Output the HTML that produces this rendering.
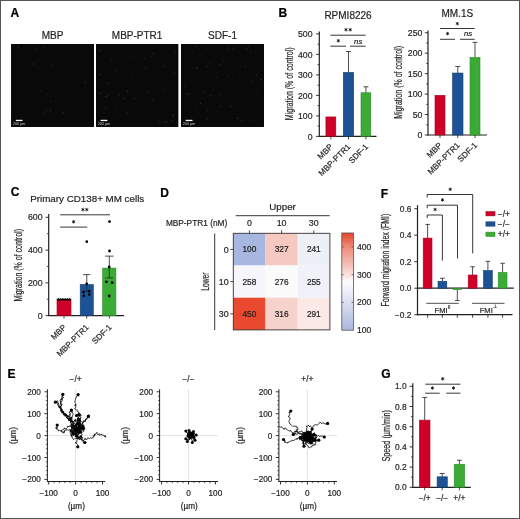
<!DOCTYPE html>
<html><head><meta charset="utf-8"><style>
html,body{margin:0;padding:0;background:#fff;}
svg{display:block;font-family:"Liberation Sans", sans-serif;will-change:transform;}
</style></head><body>
<svg width="520" height="519" viewBox="0 0 520 519">
<rect width="520" height="519" fill="#fff"/>
<rect x="0.50" y="0.50" width="519.00" height="518.00" fill="none" stroke="#555" stroke-width="1"/>
<text x="10.60" y="17.00" font-size="12" text-anchor="start" font-weight="bold" fill="#000" stroke="#000" stroke-width="0.2"  style="">A</text>
<text x="52.60" y="39.40" font-size="10" text-anchor="middle" font-weight="normal" fill="#231f20" stroke="#231f20" stroke-width="0.2"  style="">MBP</text>
<rect x="11.20" y="44.00" width="82.80" height="83.00" fill="#0c0c0c"/>
<rect x="11.20" y="44.00" width="82.80" height="83.00" fill="#090909"/>
<circle cx="32.0" cy="87.9" r="0.7" fill="rgb(37,37,37)"/>
<circle cx="85.4" cy="82.5" r="0.7" fill="rgb(44,44,44)"/>
<circle cx="18.4" cy="47.0" r="0.7" fill="rgb(41,41,41)"/>
<circle cx="33.6" cy="64.0" r="0.7" fill="rgb(48,48,48)"/>
<circle cx="50.3" cy="110.4" r="0.7" fill="rgb(41,41,41)"/>
<circle cx="44.5" cy="112.3" r="0.7" fill="rgb(33,33,33)"/>
<circle cx="63.2" cy="112.8" r="0.7" fill="rgb(42,42,42)"/>
<circle cx="43.9" cy="47.2" r="0.7" fill="rgb(28,28,28)"/>
<circle cx="25.8" cy="119.7" r="0.7" fill="rgb(27,27,27)"/>
<circle cx="36.9" cy="48.4" r="0.7" fill="rgb(34,34,34)"/>
<circle cx="50.5" cy="101.3" r="0.7" fill="rgb(38,38,38)"/>
<circle cx="69.5" cy="116.9" r="0.7" fill="rgb(38,38,38)"/>
<circle cx="70.6" cy="90.4" r="0.7" fill="rgb(30,30,30)"/>
<circle cx="82.5" cy="53.5" r="0.7" fill="rgb(30,30,30)"/>
<circle cx="52.2" cy="65.9" r="0.7" fill="rgb(47,47,47)"/>
<circle cx="47.6" cy="94.3" r="0.7" fill="rgb(35,35,35)"/>
<circle cx="46.4" cy="110.2" r="0.7" fill="rgb(44,44,44)"/>
<circle cx="40.9" cy="91.1" r="0.7" fill="rgb(44,44,44)"/>
<rect x="15.80" y="119.80" width="6.80" height="1.30" fill="#f4f4f4"/>
<text x="12.90" y="125.00" font-size="3.7" text-anchor="start" font-weight="normal" fill="#cfcfcf"  style="">200 µm</text>
<text x="137.10" y="39.40" font-size="10" text-anchor="middle" font-weight="normal" fill="#231f20" stroke="#231f20" stroke-width="0.2"  style="">MBP-PTR1</text>
<rect x="96.00" y="44.00" width="82.20" height="83.00" fill="#0c0c0c"/>
<rect x="96.00" y="44.00" width="82.20" height="83.00" fill="#090909"/>
<circle cx="116.2" cy="71.9" r="0.7" fill="rgb(26,26,26)"/>
<circle cx="165.0" cy="122.3" r="0.7" fill="rgb(47,47,47)"/>
<circle cx="152.4" cy="99.8" r="0.7" fill="rgb(36,36,36)"/>
<circle cx="173.4" cy="115.7" r="0.7" fill="rgb(44,44,44)"/>
<circle cx="106.1" cy="96.5" r="0.7" fill="rgb(46,46,46)"/>
<circle cx="163.0" cy="90.2" r="0.7" fill="rgb(35,35,35)"/>
<circle cx="107.7" cy="83.1" r="0.7" fill="rgb(46,46,46)"/>
<circle cx="175.4" cy="52.8" r="0.7" fill="rgb(28,28,28)"/>
<circle cx="130.1" cy="57.6" r="0.7" fill="rgb(35,35,35)"/>
<circle cx="131.4" cy="78.0" r="0.7" fill="rgb(29,29,29)"/>
<circle cx="101.5" cy="93.3" r="0.7" fill="rgb(27,27,27)"/>
<circle cx="127.5" cy="91.2" r="0.7" fill="rgb(43,43,43)"/>
<circle cx="166.9" cy="121.5" r="0.7" fill="rgb(42,42,42)"/>
<circle cx="116.5" cy="48.8" r="0.7" fill="rgb(26,26,26)"/>
<circle cx="104.0" cy="92.2" r="0.7" fill="rgb(27,27,27)"/>
<circle cx="172.2" cy="120.8" r="0.7" fill="rgb(35,35,35)"/>
<circle cx="145.7" cy="58.0" r="0.7" fill="rgb(27,27,27)"/>
<circle cx="174.6" cy="72.2" r="0.7" fill="rgb(37,37,37)"/>
<circle cx="173.0" cy="115.0" r="0.7" fill="rgb(38,38,38)"/>
<circle cx="127.5" cy="113.0" r="0.7" fill="rgb(38,38,38)"/>
<circle cx="148.4" cy="91.9" r="0.7" fill="rgb(43,43,43)"/>
<circle cx="106.0" cy="120.9" r="0.7" fill="rgb(42,42,42)"/>
<circle cx="119.2" cy="94.8" r="0.7" fill="rgb(48,48,48)"/>
<circle cx="116.6" cy="69.2" r="0.7" fill="rgb(34,34,34)"/>
<circle cx="138.8" cy="88.2" r="0.7" fill="rgb(26,26,26)"/>
<circle cx="159.7" cy="122.0" r="0.7" fill="rgb(36,36,36)"/>
<circle cx="99.6" cy="93.4" r="0.7" fill="rgb(46,46,46)"/>
<circle cx="108.4" cy="94.8" r="0.7" fill="rgb(36,36,36)"/>
<circle cx="134.5" cy="98.3" r="0.7" fill="rgb(37,37,37)"/>
<circle cx="145.6" cy="67.5" r="0.7" fill="rgb(41,41,41)"/>
<circle cx="99.7" cy="50.7" r="0.7" fill="rgb(47,47,47)"/>
<circle cx="99.7" cy="74.4" r="0.7" fill="rgb(46,46,46)"/>
<circle cx="133.7" cy="91.6" r="0.7" fill="rgb(36,36,36)"/>
<circle cx="111.9" cy="60.3" r="0.7" fill="rgb(37,37,37)"/>
<circle cx="164.0" cy="66.3" r="0.7" fill="rgb(38,38,38)"/>
<circle cx="106.2" cy="108.6" r="0.7" fill="rgb(44,44,44)"/>
<circle cx="151.5" cy="56.1" r="0.7" fill="rgb(42,42,42)"/>
<circle cx="115.4" cy="107.9" r="0.7" fill="rgb(33,33,33)"/>
<circle cx="123.6" cy="98.2" r="0.7" fill="rgb(46,46,46)"/>
<circle cx="152.6" cy="53.8" r="0.7" fill="rgb(36,36,36)"/>
<rect x="100.60" y="119.80" width="6.80" height="1.30" fill="#f4f4f4"/>
<text x="97.70" y="125.00" font-size="3.7" text-anchor="start" font-weight="normal" fill="#cfcfcf"  style="">200 µm</text>
<text x="222.50" y="39.40" font-size="10" text-anchor="middle" font-weight="normal" fill="#231f20" stroke="#231f20" stroke-width="0.2"  style="">SDF-1</text>
<rect x="181.00" y="44.00" width="83.00" height="83.00" fill="#0c0c0c"/>
<rect x="181.00" y="44.00" width="83.00" height="83.00" fill="#090909"/>
<circle cx="258.0" cy="98.0" r="0.7" fill="rgb(33,33,33)"/>
<circle cx="217.6" cy="111.9" r="0.7" fill="rgb(31,31,31)"/>
<circle cx="189.3" cy="103.1" r="0.7" fill="rgb(32,32,32)"/>
<circle cx="252.9" cy="80.7" r="0.7" fill="rgb(33,33,33)"/>
<circle cx="245.2" cy="48.6" r="0.7" fill="rgb(32,32,32)"/>
<circle cx="207.9" cy="110.4" r="0.7" fill="rgb(44,44,44)"/>
<circle cx="197.5" cy="67.5" r="0.7" fill="rgb(46,46,46)"/>
<circle cx="189.8" cy="93.7" r="0.7" fill="rgb(44,44,44)"/>
<circle cx="193.2" cy="68.5" r="0.7" fill="rgb(34,34,34)"/>
<circle cx="219.7" cy="94.8" r="0.7" fill="rgb(35,35,35)"/>
<circle cx="216.2" cy="77.5" r="0.7" fill="rgb(39,39,39)"/>
<circle cx="195.3" cy="46.4" r="0.7" fill="rgb(45,45,45)"/>
<circle cx="261.0" cy="79.4" r="0.7" fill="rgb(48,48,48)"/>
<circle cx="200.5" cy="103.4" r="0.7" fill="rgb(47,47,47)"/>
<circle cx="242.1" cy="120.2" r="0.7" fill="rgb(43,43,43)"/>
<circle cx="209.9" cy="63.5" r="0.7" fill="rgb(28,28,28)"/>
<circle cx="250.8" cy="120.8" r="0.7" fill="rgb(29,29,29)"/>
<circle cx="247.0" cy="49.5" r="0.7" fill="rgb(48,48,48)"/>
<circle cx="223.5" cy="61.3" r="0.7" fill="rgb(39,39,39)"/>
<circle cx="228.6" cy="47.0" r="0.7" fill="rgb(29,29,29)"/>
<circle cx="196.6" cy="69.1" r="0.7" fill="rgb(47,47,47)"/>
<circle cx="184.6" cy="87.3" r="0.7" fill="rgb(27,27,27)"/>
<circle cx="257.2" cy="93.1" r="0.7" fill="rgb(36,36,36)"/>
<circle cx="192.9" cy="120.8" r="0.7" fill="rgb(43,43,43)"/>
<circle cx="220.7" cy="106.2" r="0.7" fill="rgb(37,37,37)"/>
<circle cx="200.4" cy="55.4" r="0.7" fill="rgb(29,29,29)"/>
<circle cx="196.5" cy="107.0" r="0.7" fill="rgb(30,30,30)"/>
<circle cx="248.1" cy="46.6" r="0.7" fill="rgb(46,46,46)"/>
<circle cx="228.1" cy="76.8" r="0.7" fill="rgb(34,34,34)"/>
<circle cx="202.6" cy="93.6" r="0.7" fill="rgb(42,42,42)"/>
<circle cx="216.4" cy="82.4" r="0.7" fill="rgb(26,26,26)"/>
<circle cx="250.7" cy="105.7" r="0.7" fill="rgb(27,27,27)"/>
<circle cx="192.8" cy="51.3" r="0.7" fill="rgb(27,27,27)"/>
<circle cx="250.5" cy="52.6" r="0.7" fill="rgb(42,42,42)"/>
<circle cx="221.7" cy="58.1" r="0.7" fill="rgb(28,28,28)"/>
<circle cx="210.8" cy="95.8" r="0.7" fill="rgb(44,44,44)"/>
<circle cx="207.0" cy="66.4" r="0.7" fill="rgb(36,36,36)"/>
<circle cx="216.9" cy="55.8" r="0.7" fill="rgb(26,26,26)"/>
<circle cx="239.6" cy="75.3" r="0.7" fill="rgb(28,28,28)"/>
<circle cx="227.8" cy="49.3" r="0.7" fill="rgb(40,40,40)"/>
<circle cx="230.8" cy="106.3" r="0.7" fill="rgb(38,38,38)"/>
<circle cx="233.3" cy="49.3" r="0.7" fill="rgb(39,39,39)"/>
<circle cx="187.2" cy="94.3" r="0.7" fill="rgb(48,48,48)"/>
<circle cx="207.9" cy="119.2" r="0.7" fill="rgb(39,39,39)"/>
<circle cx="219.4" cy="64.9" r="0.7" fill="rgb(43,43,43)"/>
<circle cx="204.3" cy="91.4" r="0.7" fill="rgb(39,39,39)"/>
<circle cx="200.7" cy="56.0" r="0.7" fill="rgb(26,26,26)"/>
<circle cx="257.0" cy="74.8" r="0.7" fill="rgb(43,43,43)"/>
<circle cx="245.5" cy="66.2" r="0.7" fill="rgb(40,40,40)"/>
<circle cx="237.6" cy="118.3" r="0.7" fill="rgb(47,47,47)"/>
<rect x="185.60" y="119.80" width="6.80" height="1.30" fill="#f4f4f4"/>
<text x="182.70" y="125.00" font-size="3.7" text-anchor="start" font-weight="normal" fill="#cfcfcf"  style="">200 µm</text>
<text x="278.60" y="17.20" font-size="12" text-anchor="start" font-weight="bold" fill="#000" stroke="#000" stroke-width="0.2"  style="">B</text>
<text x="348.00" y="19.20" font-size="10" text-anchor="middle" font-weight="normal" fill="#231f20" stroke="#231f20" stroke-width="0.2"  style="">RPMI8226</text>
<line x1="319.30" y1="31.50" x2="319.30" y2="136.80" stroke="#231f20" stroke-width="1.2" />
<line x1="318.90" y1="136.40" x2="376.50" y2="136.40" stroke="#231f20" stroke-width="1.2" />
<line x1="316.10" y1="136.40" x2="319.30" y2="136.40" stroke="#231f20" stroke-width="0.9" />
<text x="312.50" y="139.50" font-size="8.7" text-anchor="end" font-weight="normal" fill="#231f20" stroke="#231f20" stroke-width="0.2"  style="">0</text>
<line x1="316.10" y1="115.90" x2="319.30" y2="115.90" stroke="#231f20" stroke-width="0.9" />
<text x="312.50" y="119.00" font-size="8.7" text-anchor="end" font-weight="normal" fill="#231f20" stroke="#231f20" stroke-width="0.2"  style="">100</text>
<line x1="316.10" y1="95.40" x2="319.30" y2="95.40" stroke="#231f20" stroke-width="0.9" />
<text x="312.50" y="98.50" font-size="8.7" text-anchor="end" font-weight="normal" fill="#231f20" stroke="#231f20" stroke-width="0.2"  style="">200</text>
<line x1="316.10" y1="74.90" x2="319.30" y2="74.90" stroke="#231f20" stroke-width="0.9" />
<text x="312.50" y="78.00" font-size="8.7" text-anchor="end" font-weight="normal" fill="#231f20" stroke="#231f20" stroke-width="0.2"  style="">300</text>
<line x1="316.10" y1="54.40" x2="319.30" y2="54.40" stroke="#231f20" stroke-width="0.9" />
<text x="312.50" y="57.50" font-size="8.7" text-anchor="end" font-weight="normal" fill="#231f20" stroke="#231f20" stroke-width="0.2"  style="">400</text>
<line x1="316.10" y1="33.90" x2="319.30" y2="33.90" stroke="#231f20" stroke-width="0.9" />
<text x="312.50" y="37.00" font-size="8.7" text-anchor="end" font-weight="normal" fill="#231f20" stroke="#231f20" stroke-width="0.2"  style="">500</text>
<line x1="317.50" y1="126.15" x2="319.30" y2="126.15" stroke="#231f20" stroke-width="0.8" />
<line x1="317.50" y1="105.65" x2="319.30" y2="105.65" stroke="#231f20" stroke-width="0.8" />
<line x1="317.50" y1="85.15" x2="319.30" y2="85.15" stroke="#231f20" stroke-width="0.8" />
<line x1="317.50" y1="64.65" x2="319.30" y2="64.65" stroke="#231f20" stroke-width="0.8" />
<line x1="317.50" y1="44.15" x2="319.30" y2="44.15" stroke="#231f20" stroke-width="0.8" />
<text transform="translate(289.30,83.75) rotate(-90)" x="0" y="3.50" font-size="10" text-anchor="middle" fill="#231f20" stroke="#231f20" stroke-width="0.2" textLength="72.9" lengthAdjust="spacingAndGlyphs">Migration (% of control)</text>
<rect x="325.90" y="116.93" width="9.90" height="19.47" fill="#cf0027" stroke="#a8001f" stroke-width="0.6"/>
<line x1="330.85" y1="136.40" x2="330.85" y2="139.40" stroke="#231f20" stroke-width="0.8" />
<line x1="348.50" y1="72.44" x2="348.50" y2="51.53" stroke="#231f20" stroke-width="0.8" />
<line x1="346.00" y1="51.53" x2="351.00" y2="51.53" stroke="#231f20" stroke-width="0.8" />
<rect x="343.30" y="72.44" width="10.40" height="63.96" fill="#1d5395" stroke="#153f70" stroke-width="0.6"/>
<line x1="348.50" y1="136.40" x2="348.50" y2="139.40" stroke="#231f20" stroke-width="0.8" />
<line x1="365.90" y1="92.74" x2="365.90" y2="86.79" stroke="#231f20" stroke-width="0.8" />
<line x1="363.40" y1="86.79" x2="368.40" y2="86.79" stroke="#231f20" stroke-width="0.8" />
<rect x="361.00" y="92.74" width="9.80" height="43.66" fill="#3aab35" stroke="#2e8a2a" stroke-width="0.6"/>
<line x1="365.90" y1="136.40" x2="365.90" y2="139.40" stroke="#231f20" stroke-width="0.8" />
<text transform="translate(333.40,147.20) rotate(-45)" x="0" y="0" font-size="8.2" text-anchor="end" fill="#231f20" stroke="#231f20" stroke-width="0.2">MBP</text>
<text transform="translate(351.10,147.20) rotate(-45)" x="0" y="0" font-size="8.2" text-anchor="end" fill="#231f20" stroke="#231f20" stroke-width="0.2">MBP-PTR1</text>
<text transform="translate(368.70,147.20) rotate(-45)" x="0" y="0" font-size="8.2" text-anchor="end" fill="#231f20" stroke="#231f20" stroke-width="0.2">SDF-1</text>
<line x1="330.40" y1="35.20" x2="365.60" y2="35.20" stroke="#231f20" stroke-width="0.9" />
<path d="M346.00,28.35L346.00,31.05M344.83,29.02L347.17,30.38M344.83,30.38L347.17,29.02" stroke="#111" stroke-width="0.85" stroke-linecap="round" fill="none"/>
<path d="M350.20,28.35L350.20,31.05M349.03,29.02L351.37,30.38M349.03,30.38L351.37,29.02" stroke="#111" stroke-width="0.85" stroke-linecap="round" fill="none"/>
<line x1="330.40" y1="46.20" x2="346.00" y2="46.20" stroke="#231f20" stroke-width="0.9" />
<path d="M338.30,39.40L338.30,42.10M337.13,40.08L339.47,41.42M337.13,41.42L339.47,40.08" stroke="#111" stroke-width="0.85" stroke-linecap="round" fill="none"/>
<line x1="350.00" y1="46.20" x2="365.60" y2="46.20" stroke="#231f20" stroke-width="0.9" />
<text x="358.20" y="43.60" font-size="7.8" text-anchor="middle" font-weight="normal" fill="#231f20" stroke="#231f20" stroke-width="0.2"  style="font-style:italic">ns</text>
<text x="457.30" y="17.30" font-size="10" text-anchor="middle" font-weight="normal" fill="#231f20" stroke="#231f20" stroke-width="0.2"  style="">MM.1S</text>
<line x1="428.00" y1="30.50" x2="428.00" y2="135.40" stroke="#231f20" stroke-width="1.2" />
<line x1="427.60" y1="135.00" x2="487.00" y2="135.00" stroke="#231f20" stroke-width="1.2" />
<line x1="424.80" y1="135.00" x2="428.00" y2="135.00" stroke="#231f20" stroke-width="0.9" />
<text x="422.30" y="138.10" font-size="8.7" text-anchor="end" font-weight="normal" fill="#231f20" stroke="#231f20" stroke-width="0.2"  style="">0</text>
<line x1="424.80" y1="114.55" x2="428.00" y2="114.55" stroke="#231f20" stroke-width="0.9" />
<text x="422.30" y="117.65" font-size="8.7" text-anchor="end" font-weight="normal" fill="#231f20" stroke="#231f20" stroke-width="0.2"  style="">50</text>
<line x1="424.80" y1="94.10" x2="428.00" y2="94.10" stroke="#231f20" stroke-width="0.9" />
<text x="422.30" y="97.20" font-size="8.7" text-anchor="end" font-weight="normal" fill="#231f20" stroke="#231f20" stroke-width="0.2"  style="">100</text>
<line x1="424.80" y1="73.65" x2="428.00" y2="73.65" stroke="#231f20" stroke-width="0.9" />
<text x="422.30" y="76.75" font-size="8.7" text-anchor="end" font-weight="normal" fill="#231f20" stroke="#231f20" stroke-width="0.2"  style="">150</text>
<line x1="424.80" y1="53.20" x2="428.00" y2="53.20" stroke="#231f20" stroke-width="0.9" />
<text x="422.30" y="56.30" font-size="8.7" text-anchor="end" font-weight="normal" fill="#231f20" stroke="#231f20" stroke-width="0.2"  style="">200</text>
<line x1="424.80" y1="32.75" x2="428.00" y2="32.75" stroke="#231f20" stroke-width="0.9" />
<text x="422.30" y="35.85" font-size="8.7" text-anchor="end" font-weight="normal" fill="#231f20" stroke="#231f20" stroke-width="0.2"  style="">250</text>
<line x1="426.20" y1="124.78" x2="428.00" y2="124.78" stroke="#231f20" stroke-width="0.8" />
<line x1="426.20" y1="104.33" x2="428.00" y2="104.33" stroke="#231f20" stroke-width="0.8" />
<line x1="426.20" y1="83.88" x2="428.00" y2="83.88" stroke="#231f20" stroke-width="0.8" />
<line x1="426.20" y1="63.43" x2="428.00" y2="63.43" stroke="#231f20" stroke-width="0.8" />
<line x1="426.20" y1="42.98" x2="428.00" y2="42.98" stroke="#231f20" stroke-width="0.8" />
<text transform="translate(398.60,82.40) rotate(-90)" x="0" y="3.50" font-size="10" text-anchor="middle" fill="#231f20" stroke="#231f20" stroke-width="0.2" textLength="72.8" lengthAdjust="spacingAndGlyphs">Migration (% of control)</text>
<rect x="435.00" y="95.33" width="10.00" height="39.67" fill="#cf0027" stroke="#a8001f" stroke-width="0.6"/>
<line x1="440.00" y1="135.00" x2="440.00" y2="138.00" stroke="#231f20" stroke-width="0.8" />
<line x1="457.75" y1="73.04" x2="457.75" y2="66.49" stroke="#231f20" stroke-width="0.8" />
<line x1="455.25" y1="66.49" x2="460.25" y2="66.49" stroke="#231f20" stroke-width="0.8" />
<rect x="452.50" y="73.04" width="10.50" height="61.96" fill="#1d5395" stroke="#153f70" stroke-width="0.6"/>
<line x1="457.75" y1="135.00" x2="457.75" y2="138.00" stroke="#231f20" stroke-width="0.8" />
<line x1="475.00" y1="57.49" x2="475.00" y2="42.36" stroke="#231f20" stroke-width="0.8" />
<line x1="472.50" y1="42.36" x2="477.50" y2="42.36" stroke="#231f20" stroke-width="0.8" />
<rect x="470.00" y="57.49" width="10.00" height="77.51" fill="#3aab35" stroke="#2e8a2a" stroke-width="0.6"/>
<line x1="475.00" y1="135.00" x2="475.00" y2="138.00" stroke="#231f20" stroke-width="0.8" />
<text transform="translate(442.60,145.80) rotate(-45)" x="0" y="0" font-size="8.2" text-anchor="end" fill="#231f20" stroke="#231f20" stroke-width="0.2">MBP</text>
<text transform="translate(460.30,145.80) rotate(-45)" x="0" y="0" font-size="8.2" text-anchor="end" fill="#231f20" stroke="#231f20" stroke-width="0.2">MBP-PTR1</text>
<text transform="translate(477.60,145.80) rotate(-45)" x="0" y="0" font-size="8.2" text-anchor="end" fill="#231f20" stroke="#231f20" stroke-width="0.2">SDF-1</text>
<line x1="440.00" y1="28.50" x2="474.70" y2="28.50" stroke="#231f20" stroke-width="0.9" />
<path d="M457.30,22.25L457.30,24.95M456.13,22.93L458.47,24.28M456.13,24.28L458.47,22.93" stroke="#111" stroke-width="0.85" stroke-linecap="round" fill="none"/>
<line x1="440.00" y1="39.30" x2="455.00" y2="39.30" stroke="#231f20" stroke-width="0.9" />
<path d="M447.60,32.25L447.60,34.95M446.43,32.93L448.77,34.27M446.43,34.27L448.77,32.93" stroke="#111" stroke-width="0.85" stroke-linecap="round" fill="none"/>
<line x1="460.00" y1="39.30" x2="474.70" y2="39.30" stroke="#231f20" stroke-width="0.9" />
<text x="468.10" y="35.90" font-size="7.8" text-anchor="middle" font-weight="normal" fill="#231f20" stroke="#231f20" stroke-width="0.2"  style="font-style:italic">ns</text>
<text x="10.80" y="196.20" font-size="12" text-anchor="start" font-weight="bold" fill="#000" stroke="#000" stroke-width="0.2"  style="">C</text>
<text x="87.20" y="201.70" font-size="9.8" text-anchor="middle" font-weight="normal" fill="#231f20" stroke="#231f20" stroke-width="0.2"  style="">Primary CD138+ MM cells</text>
<line x1="48.70" y1="214.00" x2="48.70" y2="316.00" stroke="#231f20" stroke-width="1.2" />
<line x1="48.30" y1="315.60" x2="124.00" y2="315.60" stroke="#231f20" stroke-width="1.2" />
<line x1="45.50" y1="315.60" x2="48.70" y2="315.60" stroke="#231f20" stroke-width="0.9" />
<text x="42.60" y="318.70" font-size="8.8" text-anchor="end" font-weight="normal" fill="#231f20" stroke="#231f20" stroke-width="0.2"  style="">0</text>
<line x1="45.50" y1="282.83" x2="48.70" y2="282.83" stroke="#231f20" stroke-width="0.9" />
<text x="42.60" y="285.93" font-size="8.8" text-anchor="end" font-weight="normal" fill="#231f20" stroke="#231f20" stroke-width="0.2"  style="">200</text>
<line x1="45.50" y1="250.07" x2="48.70" y2="250.07" stroke="#231f20" stroke-width="0.9" />
<text x="42.60" y="253.17" font-size="8.8" text-anchor="end" font-weight="normal" fill="#231f20" stroke="#231f20" stroke-width="0.2"  style="">400</text>
<line x1="45.50" y1="217.30" x2="48.70" y2="217.30" stroke="#231f20" stroke-width="0.9" />
<text x="42.60" y="220.40" font-size="8.8" text-anchor="end" font-weight="normal" fill="#231f20" stroke="#231f20" stroke-width="0.2"  style="">600</text>
<line x1="46.90" y1="299.22" x2="48.70" y2="299.22" stroke="#231f20" stroke-width="0.8" />
<line x1="46.90" y1="266.45" x2="48.70" y2="266.45" stroke="#231f20" stroke-width="0.8" />
<line x1="46.90" y1="233.69" x2="48.70" y2="233.69" stroke="#231f20" stroke-width="0.8" />
<text transform="translate(18.50,265.30) rotate(-90)" x="0" y="3.50" font-size="10" text-anchor="middle" fill="#231f20" stroke="#231f20" stroke-width="0.2" textLength="72.6" lengthAdjust="spacingAndGlyphs">Migration (% of control)</text>
<rect x="57.00" y="299.38" width="14.00" height="16.22" fill="#cf0027" stroke="#a8001f" stroke-width="0.6"/>
<line x1="64.00" y1="315.60" x2="64.00" y2="318.60" stroke="#231f20" stroke-width="0.8" />
<rect x="80.20" y="284.47" width="13.10" height="31.13" fill="#1d5395" stroke="#153f70" stroke-width="0.6"/>
<line x1="86.75" y1="315.60" x2="86.75" y2="318.60" stroke="#231f20" stroke-width="0.8" />
<rect x="102.70" y="268.09" width="13.20" height="47.51" fill="#3aab35" stroke="#2e8a2a" stroke-width="0.6"/>
<line x1="109.30" y1="315.60" x2="109.30" y2="318.60" stroke="#231f20" stroke-width="0.8" />
<line x1="86.75" y1="284.47" x2="86.75" y2="274.64" stroke="#231f20" stroke-width="0.8" />
<line x1="83.15" y1="274.64" x2="90.35" y2="274.64" stroke="#231f20" stroke-width="0.8" />
<line x1="109.30" y1="268.09" x2="109.30" y2="256.13" stroke="#231f20" stroke-width="0.8" />
<line x1="105.10" y1="256.13" x2="113.50" y2="256.13" stroke="#231f20" stroke-width="0.8" />
<line x1="109.30" y1="268.09" x2="109.30" y2="277.92" stroke="#231f20" stroke-width="0.8" />
<line x1="105.50" y1="277.92" x2="113.10" y2="277.92" stroke="#231f20" stroke-width="0.8" />
<line x1="86.75" y1="284.47" x2="86.75" y2="291.03" stroke="#0d2a4a" stroke-width="0.8" />
<line x1="83.60" y1="291.03" x2="89.90" y2="291.03" stroke="#0d2a4a" stroke-width="0.8" />
<circle cx="58.30" cy="299.40" r="1.2" fill="#000"/>
<circle cx="60.60" cy="299.40" r="1.2" fill="#000"/>
<circle cx="62.90" cy="299.40" r="1.2" fill="#000"/>
<circle cx="65.20" cy="299.40" r="1.2" fill="#000"/>
<circle cx="67.50" cy="299.40" r="1.2" fill="#000"/>
<circle cx="69.70" cy="299.40" r="1.2" fill="#000"/>
<circle cx="86.80" cy="241.70" r="1.35" fill="#000"/>
<circle cx="86.70" cy="283.80" r="1.35" fill="#000"/>
<circle cx="83.50" cy="292.10" r="1.35" fill="#000"/>
<circle cx="89.10" cy="291.20" r="1.35" fill="#000"/>
<circle cx="83.80" cy="295.80" r="1.35" fill="#000"/>
<circle cx="89.30" cy="294.50" r="1.35" fill="#000"/>
<circle cx="109.50" cy="221.60" r="1.4" fill="#000"/>
<circle cx="109.50" cy="251.00" r="1.4" fill="#000"/>
<circle cx="109.20" cy="267.00" r="1.4" fill="#000"/>
<circle cx="106.40" cy="281.80" r="1.4" fill="#000"/>
<circle cx="112.20" cy="282.70" r="1.4" fill="#000"/>
<circle cx="109.20" cy="296.00" r="1.4" fill="#000"/>
<text transform="translate(66.80,327.80) rotate(-45)" x="0" y="0" font-size="8.2" text-anchor="end" fill="#231f20" stroke="#231f20" stroke-width="0.2">MBP</text>
<text transform="translate(89.30,327.80) rotate(-45)" x="0" y="0" font-size="8.2" text-anchor="end" fill="#231f20" stroke="#231f20" stroke-width="0.2">MBP-PTR1</text>
<text transform="translate(112.10,327.80) rotate(-45)" x="0" y="0" font-size="8.2" text-anchor="end" fill="#231f20" stroke="#231f20" stroke-width="0.2">SDF-1</text>
<line x1="60.20" y1="214.80" x2="110.00" y2="214.80" stroke="#231f20" stroke-width="0.9" />
<path d="M82.90,208.25L82.90,210.95M81.73,208.92L84.07,210.28M81.73,210.28L84.07,208.92" stroke="#111" stroke-width="0.85" stroke-linecap="round" fill="none"/>
<path d="M86.80,208.25L86.80,210.95M85.63,208.92L87.97,210.28M85.63,210.28L87.97,208.92" stroke="#111" stroke-width="0.85" stroke-linecap="round" fill="none"/>
<line x1="60.20" y1="227.10" x2="87.30" y2="227.10" stroke="#231f20" stroke-width="0.9" />
<path d="M73.60,220.45L73.60,223.15M72.43,221.12L74.77,222.48M72.43,222.48L74.77,221.12" stroke="#111" stroke-width="0.85" stroke-linecap="round" fill="none"/>
<text x="160.30" y="197.00" font-size="12" text-anchor="start" font-weight="bold" fill="#000" stroke="#000" stroke-width="0.2"  style="">D</text>
<text x="282.50" y="209.80" font-size="9.8" text-anchor="middle" font-weight="normal" fill="#231f20" stroke="#231f20" stroke-width="0.2"  style="">Upper</text>
<line x1="235.70" y1="215.70" x2="329.70" y2="215.70" stroke="#231f20" stroke-width="0.9" />
<text x="227.20" y="226.20" font-size="8.3" text-anchor="end" font-weight="normal" fill="#231f20" stroke="#231f20" stroke-width="0.2"  style="">MBP-PTR1 (nM)</text>
<rect x="233.30" y="233.30" width="32.20" height="32.20" fill="#a8b7e0"/>
<text x="249.40" y="252.40" font-size="8.3" text-anchor="middle" font-weight="normal" fill="#222" stroke="#222" stroke-width="0.2"  style="">100</text>
<rect x="265.50" y="233.30" width="32.20" height="32.20" fill="#f5c8c2"/>
<text x="281.60" y="252.40" font-size="8.3" text-anchor="middle" font-weight="normal" fill="#222" stroke="#222" stroke-width="0.2"  style="">327</text>
<rect x="297.70" y="233.30" width="32.20" height="32.20" fill="#eef0f8"/>
<text x="313.80" y="252.40" font-size="8.3" text-anchor="middle" font-weight="normal" fill="#222" stroke="#222" stroke-width="0.2"  style="">241</text>
<rect x="233.30" y="265.50" width="32.20" height="32.20" fill="#f6f6fb"/>
<text x="249.40" y="284.60" font-size="8.3" text-anchor="middle" font-weight="normal" fill="#222" stroke="#222" stroke-width="0.2"  style="">258</text>
<rect x="265.50" y="265.50" width="32.20" height="32.20" fill="#fcfbfb"/>
<text x="281.60" y="284.60" font-size="8.3" text-anchor="middle" font-weight="normal" fill="#222" stroke="#222" stroke-width="0.2"  style="">276</text>
<rect x="297.70" y="265.50" width="32.20" height="32.20" fill="#f1f2f9"/>
<text x="313.80" y="284.60" font-size="8.3" text-anchor="middle" font-weight="normal" fill="#222" stroke="#222" stroke-width="0.2"  style="">255</text>
<rect x="233.30" y="297.70" width="32.20" height="32.20" fill="#e8492f"/>
<text x="249.40" y="316.80" font-size="8.3" text-anchor="middle" font-weight="normal" fill="#222" stroke="#222" stroke-width="0.2"  style="">450</text>
<rect x="265.50" y="297.70" width="32.20" height="32.20" fill="#f6d2cc"/>
<text x="281.60" y="316.80" font-size="8.3" text-anchor="middle" font-weight="normal" fill="#222" stroke="#222" stroke-width="0.2"  style="">316</text>
<rect x="297.70" y="297.70" width="32.20" height="32.20" fill="#fbe9e6"/>
<text x="313.80" y="316.80" font-size="8.3" text-anchor="middle" font-weight="normal" fill="#222" stroke="#222" stroke-width="0.2"  style="">291</text>
<rect x="233.30" y="233.30" width="96.60" height="96.60" fill="none" stroke="#333" stroke-width="0.9"/>
<line x1="249.40" y1="230.30" x2="249.40" y2="233.30" stroke="#231f20" stroke-width="0.8" />
<text x="249.40" y="225.90" font-size="8.9" text-anchor="middle" font-weight="normal" fill="#231f20" stroke="#231f20" stroke-width="0.2"  style="">0</text>
<line x1="230.30" y1="249.40" x2="233.30" y2="249.40" stroke="#231f20" stroke-width="0.8" />
<text x="228.70" y="252.60" font-size="8.9" text-anchor="end" font-weight="normal" fill="#231f20" stroke="#231f20" stroke-width="0.2"  style="">0</text>
<line x1="281.60" y1="230.30" x2="281.60" y2="233.30" stroke="#231f20" stroke-width="0.8" />
<text x="281.60" y="225.90" font-size="8.9" text-anchor="middle" font-weight="normal" fill="#231f20" stroke="#231f20" stroke-width="0.2"  style="">10</text>
<line x1="230.30" y1="281.60" x2="233.30" y2="281.60" stroke="#231f20" stroke-width="0.8" />
<text x="228.70" y="284.80" font-size="8.9" text-anchor="end" font-weight="normal" fill="#231f20" stroke="#231f20" stroke-width="0.2"  style="">10</text>
<line x1="313.80" y1="230.30" x2="313.80" y2="233.30" stroke="#231f20" stroke-width="0.8" />
<text x="313.80" y="225.90" font-size="8.9" text-anchor="middle" font-weight="normal" fill="#231f20" stroke="#231f20" stroke-width="0.2"  style="">30</text>
<line x1="230.30" y1="313.80" x2="233.30" y2="313.80" stroke="#231f20" stroke-width="0.8" />
<text x="228.70" y="317.00" font-size="8.9" text-anchor="end" font-weight="normal" fill="#231f20" stroke="#231f20" stroke-width="0.2"  style="">30</text>
<line x1="214.70" y1="233.50" x2="214.70" y2="330.00" stroke="#231f20" stroke-width="0.9" />
<text transform="translate(205.35,281.65) rotate(-90)" x="0" y="3.85" font-size="11" text-anchor="middle" fill="#231f20" stroke="#231f20" stroke-width="0.2" textLength="18.1" lengthAdjust="spacingAndGlyphs">Lower</text>
<defs><linearGradient id="cb" x1="0" y1="1" x2="0" y2="0"><stop offset="0" stop-color="#a9b6df"/><stop offset="0.2" stop-color="#cdd3ec"/><stop offset="0.403" stop-color="#eceef8"/><stop offset="0.451" stop-color="#f5f5fb"/><stop offset="0.503" stop-color="#fdfcfc"/><stop offset="0.546" stop-color="#fbe9e6"/><stop offset="0.617" stop-color="#f6d2cc"/><stop offset="0.649" stop-color="#f5c6bf"/><stop offset="0.857" stop-color="#ee8a78"/><stop offset="1" stop-color="#e5442c"/></linearGradient></defs>
<rect x="341.8" y="233" width="11.6" height="97.2" fill="url(#cb)" stroke="#555" stroke-width="0.8"/>
<text x="357.00" y="333.20" font-size="8.6" text-anchor="start" font-weight="normal" fill="#231f20" stroke="#231f20" stroke-width="0.2"  style="">100</text>
<line x1="341.80" y1="302.43" x2="343.60" y2="302.43" stroke="#444" stroke-width="0.7" />
<line x1="351.60" y1="302.43" x2="353.40" y2="302.43" stroke="#444" stroke-width="0.7" />
<text x="357.00" y="305.43" font-size="8.6" text-anchor="start" font-weight="normal" fill="#231f20" stroke="#231f20" stroke-width="0.2"  style="">200</text>
<line x1="341.80" y1="274.66" x2="343.60" y2="274.66" stroke="#444" stroke-width="0.7" />
<line x1="351.60" y1="274.66" x2="353.40" y2="274.66" stroke="#444" stroke-width="0.7" />
<text x="357.00" y="277.66" font-size="8.6" text-anchor="start" font-weight="normal" fill="#231f20" stroke="#231f20" stroke-width="0.2"  style="">300</text>
<line x1="341.80" y1="246.89" x2="343.60" y2="246.89" stroke="#444" stroke-width="0.7" />
<line x1="351.60" y1="246.89" x2="353.40" y2="246.89" stroke="#444" stroke-width="0.7" />
<text x="357.00" y="249.89" font-size="8.6" text-anchor="start" font-weight="normal" fill="#231f20" stroke="#231f20" stroke-width="0.2"  style="">400</text>
<text x="380.80" y="198.00" font-size="12" text-anchor="start" font-weight="bold" fill="#000" stroke="#000" stroke-width="0.2"  style="">F</text>
<line x1="417.50" y1="205.20" x2="417.50" y2="315.40" stroke="#231f20" stroke-width="1.2" />
<line x1="417.10" y1="288.20" x2="513.80" y2="288.20" stroke="#231f20" stroke-width="1.2" />
<line x1="417.10" y1="314.70" x2="512.50" y2="314.70" stroke="#231f20" stroke-width="1.2" />
<line x1="414.30" y1="208.70" x2="417.50" y2="208.70" stroke="#231f20" stroke-width="0.9" />
<text x="411.40" y="211.70" font-size="8.4" text-anchor="end" font-weight="normal" fill="#231f20" stroke="#231f20" stroke-width="0.2"  style="">0.6</text>
<line x1="414.30" y1="235.20" x2="417.50" y2="235.20" stroke="#231f20" stroke-width="0.9" />
<text x="411.40" y="238.20" font-size="8.4" text-anchor="end" font-weight="normal" fill="#231f20" stroke="#231f20" stroke-width="0.2"  style="">0.4</text>
<line x1="414.30" y1="261.70" x2="417.50" y2="261.70" stroke="#231f20" stroke-width="0.9" />
<text x="411.40" y="264.70" font-size="8.4" text-anchor="end" font-weight="normal" fill="#231f20" stroke="#231f20" stroke-width="0.2"  style="">0.2</text>
<line x1="414.30" y1="288.20" x2="417.50" y2="288.20" stroke="#231f20" stroke-width="0.9" />
<text x="411.40" y="291.20" font-size="8.4" text-anchor="end" font-weight="normal" fill="#231f20" stroke="#231f20" stroke-width="0.2"  style="">0.0</text>
<line x1="414.30" y1="314.70" x2="417.50" y2="314.70" stroke="#231f20" stroke-width="0.9" />
<text x="411.40" y="317.70" font-size="8.4" text-anchor="end" font-weight="normal" fill="#231f20" stroke="#231f20" stroke-width="0.2"  style="">−0.2</text>
<text transform="translate(385.50,260.20) rotate(-90)" x="0" y="3.50" font-size="10" text-anchor="middle" fill="#231f20" stroke="#231f20" stroke-width="0.2" textLength="92.8" lengthAdjust="spacingAndGlyphs">Forward migration index (FMI)</text>
<line x1="427.60" y1="238.11" x2="427.60" y2="224.40" stroke="#231f20" stroke-width="0.8" />
<line x1="425.30" y1="224.40" x2="429.90" y2="224.40" stroke="#231f20" stroke-width="0.8" />
<rect x="423.20" y="238.11" width="8.80" height="50.09" fill="#cf0027" stroke="#a8001f" stroke-width="0.6"/>
<line x1="427.60" y1="314.70" x2="427.60" y2="317.80" stroke="#231f20" stroke-width="0.8" />
<line x1="442.40" y1="281.24" x2="442.40" y2="278.26" stroke="#231f20" stroke-width="0.8" />
<line x1="440.10" y1="278.26" x2="444.70" y2="278.26" stroke="#231f20" stroke-width="0.8" />
<rect x="438.00" y="281.24" width="8.80" height="6.96" fill="#1d5395" stroke="#153f70" stroke-width="0.6"/>
<line x1="442.40" y1="314.70" x2="442.40" y2="317.80" stroke="#231f20" stroke-width="0.8" />
<line x1="457.30" y1="289.00" x2="457.30" y2="300.52" stroke="#231f20" stroke-width="0.8" />
<line x1="455.00" y1="300.52" x2="459.60" y2="300.52" stroke="#231f20" stroke-width="0.8" />
<rect x="452.90" y="288.20" width="8.80" height="1.40" fill="#3aab35" stroke="#2e8a2a" stroke-width="0.6"/>
<line x1="457.30" y1="314.70" x2="457.30" y2="317.80" stroke="#231f20" stroke-width="0.8" />
<line x1="472.60" y1="275.00" x2="472.60" y2="266.74" stroke="#231f20" stroke-width="0.8" />
<line x1="470.30" y1="266.74" x2="474.90" y2="266.74" stroke="#231f20" stroke-width="0.8" />
<rect x="468.20" y="275.00" width="8.80" height="13.20" fill="#cf0027" stroke="#a8001f" stroke-width="0.6"/>
<line x1="472.60" y1="314.70" x2="472.60" y2="317.80" stroke="#231f20" stroke-width="0.8" />
<line x1="487.90" y1="270.50" x2="487.90" y2="261.30" stroke="#231f20" stroke-width="0.8" />
<line x1="485.60" y1="261.30" x2="490.20" y2="261.30" stroke="#231f20" stroke-width="0.8" />
<rect x="483.50" y="270.50" width="8.80" height="17.70" fill="#1d5395" stroke="#153f70" stroke-width="0.6"/>
<line x1="487.90" y1="314.70" x2="487.90" y2="317.80" stroke="#231f20" stroke-width="0.8" />
<line x1="502.60" y1="272.50" x2="502.60" y2="263.29" stroke="#231f20" stroke-width="0.8" />
<line x1="500.30" y1="263.29" x2="504.90" y2="263.29" stroke="#231f20" stroke-width="0.8" />
<rect x="498.20" y="272.50" width="8.80" height="15.70" fill="#3aab35" stroke="#2e8a2a" stroke-width="0.6"/>
<line x1="502.60" y1="314.70" x2="502.60" y2="317.80" stroke="#231f20" stroke-width="0.8" />
<polyline points="427.2,197.5 427.2,194.5 472.7,194.5 472.7,253.3" fill="none" stroke="#231f20" stroke-width="0.9"/>
<path d="M450.20,187.95L450.20,190.65M449.03,188.62L451.37,189.98M449.03,189.98L451.37,188.62" stroke="#111" stroke-width="0.85" stroke-linecap="round" fill="none"/>
<polyline points="427.2,208.2 427.2,205.2 457.5,205.2 457.5,258.5" fill="none" stroke="#231f20" stroke-width="0.9"/>
<path d="M442.50,198.55L442.50,201.25M441.33,199.22L443.67,200.58M441.33,200.58L443.67,199.22" stroke="#111" stroke-width="0.85" stroke-linecap="round" fill="none"/>
<polyline points="427.2,218.0 427.2,215.0 442.4,215.0 442.4,260.6" fill="none" stroke="#231f20" stroke-width="0.9"/>
<path d="M435.10,208.15L435.10,210.85M433.93,208.82L436.27,210.18M433.93,210.18L436.27,208.82" stroke="#111" stroke-width="0.85" stroke-linecap="round" fill="none"/>
<line x1="426.30" y1="303.30" x2="458.80" y2="303.30" stroke="#231f20" stroke-width="0.8" />
<line x1="472.00" y1="303.30" x2="504.50" y2="303.30" stroke="#231f20" stroke-width="0.8" />
<text x="434.60" y="312.80" font-size="7.6" text-anchor="start" font-weight="normal" fill="#231f20" stroke="#231f20" stroke-width="0.2"  style="">FMI</text>
<text x="448.00" y="308.30" font-size="4.4" text-anchor="start" font-weight="normal" fill="#231f20" stroke="#231f20" stroke-width="0.2"  style="">||</text>
<text x="479.70" y="312.80" font-size="7.6" text-anchor="start" font-weight="normal" fill="#231f20" stroke="#231f20" stroke-width="0.2"  style="">FMI</text>
<text x="492.60" y="308.30" font-size="4.6" text-anchor="start" font-weight="normal" fill="#231f20" stroke="#231f20" stroke-width="0.2"  style="">⊥</text>
<rect x="485.90" y="211.50" width="9.10" height="4.40" fill="#cf0027" stroke="#a8001f" stroke-width="0.5"/>
<text x="497.80" y="216.70" font-size="8.4" text-anchor="start" font-weight="normal" fill="#231f20" stroke="#231f20" stroke-width="0.2"  style="">−/+</text>
<rect x="485.90" y="221.80" width="9.10" height="4.40" fill="#1d5395" stroke="#153f70" stroke-width="0.5"/>
<text x="497.80" y="227.00" font-size="8.4" text-anchor="start" font-weight="normal" fill="#231f20" stroke="#231f20" stroke-width="0.2"  style="">−/−</text>
<rect x="485.90" y="232.10" width="9.10" height="4.40" fill="#3aab35" stroke="#2e8a2a" stroke-width="0.5"/>
<text x="497.80" y="237.30" font-size="8.4" text-anchor="start" font-weight="normal" fill="#231f20" stroke="#231f20" stroke-width="0.2"  style="">+/+</text>
<text x="381.20" y="377.60" font-size="12" text-anchor="start" font-weight="bold" fill="#000" stroke="#000" stroke-width="0.2"  style="">G</text>
<line x1="412.80" y1="383.30" x2="412.80" y2="487.70" stroke="#231f20" stroke-width="1.2" />
<line x1="412.40" y1="487.30" x2="470.80" y2="487.30" stroke="#231f20" stroke-width="1.2" />
<line x1="409.60" y1="487.30" x2="412.80" y2="487.30" stroke="#231f20" stroke-width="0.9" />
<text x="406.60" y="490.30" font-size="8.4" text-anchor="end" font-weight="normal" fill="#231f20" stroke="#231f20" stroke-width="0.2"  style="">0.0</text>
<line x1="409.60" y1="467.10" x2="412.80" y2="467.10" stroke="#231f20" stroke-width="0.9" />
<text x="406.60" y="470.10" font-size="8.4" text-anchor="end" font-weight="normal" fill="#231f20" stroke="#231f20" stroke-width="0.2"  style="">0.2</text>
<line x1="409.60" y1="446.90" x2="412.80" y2="446.90" stroke="#231f20" stroke-width="0.9" />
<text x="406.60" y="449.90" font-size="8.4" text-anchor="end" font-weight="normal" fill="#231f20" stroke="#231f20" stroke-width="0.2"  style="">0.4</text>
<line x1="409.60" y1="426.70" x2="412.80" y2="426.70" stroke="#231f20" stroke-width="0.9" />
<text x="406.60" y="429.70" font-size="8.4" text-anchor="end" font-weight="normal" fill="#231f20" stroke="#231f20" stroke-width="0.2"  style="">0.6</text>
<line x1="409.60" y1="406.50" x2="412.80" y2="406.50" stroke="#231f20" stroke-width="0.9" />
<text x="406.60" y="409.50" font-size="8.4" text-anchor="end" font-weight="normal" fill="#231f20" stroke="#231f20" stroke-width="0.2"  style="">0.8</text>
<line x1="409.60" y1="386.30" x2="412.80" y2="386.30" stroke="#231f20" stroke-width="0.9" />
<text x="406.60" y="389.30" font-size="8.4" text-anchor="end" font-weight="normal" fill="#231f20" stroke="#231f20" stroke-width="0.2"  style="">1.0</text>
<line x1="411.00" y1="477.20" x2="412.80" y2="477.20" stroke="#231f20" stroke-width="0.8" />
<line x1="411.00" y1="457.00" x2="412.80" y2="457.00" stroke="#231f20" stroke-width="0.8" />
<line x1="411.00" y1="436.80" x2="412.80" y2="436.80" stroke="#231f20" stroke-width="0.8" />
<line x1="411.00" y1="416.60" x2="412.80" y2="416.60" stroke="#231f20" stroke-width="0.8" />
<line x1="411.00" y1="396.40" x2="412.80" y2="396.40" stroke="#231f20" stroke-width="0.8" />
<text transform="translate(386.10,435.75) rotate(-90)" x="0" y="3.50" font-size="10" text-anchor="middle" fill="#231f20" stroke="#231f20" stroke-width="0.2" textLength="51.5" lengthAdjust="spacingAndGlyphs">Speed (µm/min)</text>
<line x1="424.70" y1="420.13" x2="424.70" y2="397.41" stroke="#231f20" stroke-width="0.8" />
<line x1="422.20" y1="397.41" x2="427.20" y2="397.41" stroke="#231f20" stroke-width="0.8" />
<rect x="419.40" y="420.13" width="10.60" height="67.17" fill="#cf0027" stroke="#a8001f" stroke-width="0.6"/>
<line x1="424.70" y1="487.30" x2="424.70" y2="490.30" stroke="#231f20" stroke-width="0.8" />
<line x1="442.20" y1="476.80" x2="442.20" y2="473.46" stroke="#231f20" stroke-width="0.8" />
<line x1="439.70" y1="473.46" x2="444.70" y2="473.46" stroke="#231f20" stroke-width="0.8" />
<rect x="437.10" y="476.80" width="10.20" height="10.50" fill="#1d5395" stroke="#153f70" stroke-width="0.6"/>
<line x1="442.20" y1="487.30" x2="442.20" y2="490.30" stroke="#231f20" stroke-width="0.8" />
<line x1="459.40" y1="464.27" x2="459.40" y2="460.23" stroke="#231f20" stroke-width="0.8" />
<line x1="456.90" y1="460.23" x2="461.90" y2="460.23" stroke="#231f20" stroke-width="0.8" />
<rect x="454.20" y="464.27" width="10.40" height="23.03" fill="#3aab35" stroke="#2e8a2a" stroke-width="0.6"/>
<line x1="459.40" y1="487.30" x2="459.40" y2="490.30" stroke="#231f20" stroke-width="0.8" />
<text x="424.70" y="501.00" font-size="8.4" text-anchor="middle" font-weight="normal" fill="#231f20" stroke="#231f20" stroke-width="0.2"  style="">−/+</text>
<text x="442.20" y="501.00" font-size="8.4" text-anchor="middle" font-weight="normal" fill="#231f20" stroke="#231f20" stroke-width="0.2"  style="">−/−</text>
<text x="459.30" y="501.00" font-size="8.4" text-anchor="middle" font-weight="normal" fill="#231f20" stroke="#231f20" stroke-width="0.2"  style="">+/+</text>
<line x1="425.30" y1="384.20" x2="460.40" y2="384.20" stroke="#231f20" stroke-width="0.9" />
<path d="M442.70,377.45L442.70,380.15M441.53,378.12L443.87,379.48M441.53,379.48L443.87,378.12" stroke="#111" stroke-width="0.85" stroke-linecap="round" fill="none"/>
<line x1="425.30" y1="393.20" x2="439.70" y2="393.20" stroke="#231f20" stroke-width="0.9" />
<path d="M432.40,386.65L432.40,389.35M431.23,387.32L433.57,388.68M431.23,388.68L433.57,387.32" stroke="#111" stroke-width="0.85" stroke-linecap="round" fill="none"/>
<line x1="446.30" y1="393.20" x2="460.40" y2="393.20" stroke="#231f20" stroke-width="0.9" />
<path d="M453.50,386.65L453.50,389.35M452.33,387.32L454.67,388.68M452.33,388.68L454.67,387.32" stroke="#111" stroke-width="0.85" stroke-linecap="round" fill="none"/>
<text x="7.40" y="377.80" font-size="12" text-anchor="start" font-weight="bold" fill="#000" stroke="#000" stroke-width="0.2"  style="">E</text>
<line x1="75.60" y1="389.50" x2="75.60" y2="481.50" stroke="#d6d6d6" stroke-width="0.7" />
<line x1="47.40" y1="435.60" x2="105.19" y2="435.60" stroke="#d6d6d6" stroke-width="0.7" />
<line x1="47.40" y1="389.20" x2="47.40" y2="481.90" stroke="#231f20" stroke-width="1" />
<line x1="47.00" y1="481.50" x2="105.19" y2="481.50" stroke="#231f20" stroke-width="1" />
<line x1="44.40" y1="479.40" x2="47.40" y2="479.40" stroke="#231f20" stroke-width="0.9" />
<text x="40.80" y="482.40" font-size="8.2" text-anchor="end" font-weight="normal" fill="#231f20" stroke="#231f20" stroke-width="0.2"  style="">−200</text>
<line x1="44.40" y1="457.50" x2="47.40" y2="457.50" stroke="#231f20" stroke-width="0.9" />
<text x="40.80" y="460.50" font-size="8.2" text-anchor="end" font-weight="normal" fill="#231f20" stroke="#231f20" stroke-width="0.2"  style="">−100</text>
<line x1="44.40" y1="435.60" x2="47.40" y2="435.60" stroke="#231f20" stroke-width="0.9" />
<text x="40.80" y="438.60" font-size="8.2" text-anchor="end" font-weight="normal" fill="#231f20" stroke="#231f20" stroke-width="0.2"  style="">0</text>
<line x1="44.40" y1="413.70" x2="47.40" y2="413.70" stroke="#231f20" stroke-width="0.9" />
<text x="40.80" y="416.70" font-size="8.2" text-anchor="end" font-weight="normal" fill="#231f20" stroke="#231f20" stroke-width="0.2"  style="">100</text>
<line x1="44.40" y1="391.80" x2="47.40" y2="391.80" stroke="#231f20" stroke-width="0.9" />
<text x="40.80" y="394.80" font-size="8.2" text-anchor="end" font-weight="normal" fill="#231f20" stroke="#231f20" stroke-width="0.2"  style="">200</text>
<line x1="45.80" y1="475.02" x2="47.40" y2="475.02" stroke="#231f20" stroke-width="0.7" />
<line x1="45.80" y1="470.64" x2="47.40" y2="470.64" stroke="#231f20" stroke-width="0.7" />
<line x1="45.80" y1="466.26" x2="47.40" y2="466.26" stroke="#231f20" stroke-width="0.7" />
<line x1="45.80" y1="461.88" x2="47.40" y2="461.88" stroke="#231f20" stroke-width="0.7" />
<line x1="45.80" y1="453.12" x2="47.40" y2="453.12" stroke="#231f20" stroke-width="0.7" />
<line x1="45.80" y1="448.74" x2="47.40" y2="448.74" stroke="#231f20" stroke-width="0.7" />
<line x1="45.80" y1="444.36" x2="47.40" y2="444.36" stroke="#231f20" stroke-width="0.7" />
<line x1="45.80" y1="439.98" x2="47.40" y2="439.98" stroke="#231f20" stroke-width="0.7" />
<line x1="45.80" y1="431.22" x2="47.40" y2="431.22" stroke="#231f20" stroke-width="0.7" />
<line x1="45.80" y1="426.84" x2="47.40" y2="426.84" stroke="#231f20" stroke-width="0.7" />
<line x1="45.80" y1="422.46" x2="47.40" y2="422.46" stroke="#231f20" stroke-width="0.7" />
<line x1="45.80" y1="418.08" x2="47.40" y2="418.08" stroke="#231f20" stroke-width="0.7" />
<line x1="45.80" y1="409.32" x2="47.40" y2="409.32" stroke="#231f20" stroke-width="0.7" />
<line x1="45.80" y1="404.94" x2="47.40" y2="404.94" stroke="#231f20" stroke-width="0.7" />
<line x1="45.80" y1="400.56" x2="47.40" y2="400.56" stroke="#231f20" stroke-width="0.7" />
<line x1="45.80" y1="396.18" x2="47.40" y2="396.18" stroke="#231f20" stroke-width="0.7" />
<line x1="48.70" y1="481.50" x2="48.70" y2="484.50" stroke="#231f20" stroke-width="0.9" />
<text x="48.70" y="495.80" font-size="8.2" text-anchor="middle" font-weight="normal" fill="#231f20" stroke="#231f20" stroke-width="0.2"  style="">−100</text>
<line x1="75.60" y1="481.50" x2="75.60" y2="484.50" stroke="#231f20" stroke-width="0.9" />
<text x="75.60" y="495.80" font-size="8.2" text-anchor="middle" font-weight="normal" fill="#231f20" stroke="#231f20" stroke-width="0.2"  style="">0</text>
<line x1="102.50" y1="481.50" x2="102.50" y2="484.50" stroke="#231f20" stroke-width="0.9" />
<text x="102.50" y="495.80" font-size="8.2" text-anchor="middle" font-weight="normal" fill="#231f20" stroke="#231f20" stroke-width="0.2"  style="">100</text>
<line x1="54.08" y1="481.50" x2="54.08" y2="483.20" stroke="#231f20" stroke-width="0.7" />
<line x1="59.46" y1="481.50" x2="59.46" y2="483.20" stroke="#231f20" stroke-width="0.7" />
<line x1="64.84" y1="481.50" x2="64.84" y2="483.20" stroke="#231f20" stroke-width="0.7" />
<line x1="70.22" y1="481.50" x2="70.22" y2="483.20" stroke="#231f20" stroke-width="0.7" />
<line x1="80.98" y1="481.50" x2="80.98" y2="483.20" stroke="#231f20" stroke-width="0.7" />
<line x1="86.36" y1="481.50" x2="86.36" y2="483.20" stroke="#231f20" stroke-width="0.7" />
<line x1="91.74" y1="481.50" x2="91.74" y2="483.20" stroke="#231f20" stroke-width="0.7" />
<line x1="97.12" y1="481.50" x2="97.12" y2="483.20" stroke="#231f20" stroke-width="0.7" />
<text x="75.60" y="381.60" font-size="8.4" text-anchor="middle" font-weight="normal" fill="#231f20" stroke="#231f20" stroke-width="0.2"  style="">−/+</text>
<text x="76.40" y="508.80" font-size="8.2" text-anchor="middle" font-weight="normal" fill="#231f20" stroke="#231f20" stroke-width="0.2"  style="">(µm)</text>
<line x1="188.50" y1="389.50" x2="188.50" y2="481.50" stroke="#d6d6d6" stroke-width="0.7" />
<line x1="159.60" y1="435.60" x2="218.09" y2="435.60" stroke="#d6d6d6" stroke-width="0.7" />
<line x1="159.60" y1="389.20" x2="159.60" y2="481.90" stroke="#231f20" stroke-width="1" />
<line x1="159.20" y1="481.50" x2="218.09" y2="481.50" stroke="#231f20" stroke-width="1" />
<line x1="156.60" y1="479.40" x2="159.60" y2="479.40" stroke="#231f20" stroke-width="0.9" />
<text x="153.00" y="482.40" font-size="8.2" text-anchor="end" font-weight="normal" fill="#231f20" stroke="#231f20" stroke-width="0.2"  style="">−200</text>
<line x1="156.60" y1="457.50" x2="159.60" y2="457.50" stroke="#231f20" stroke-width="0.9" />
<text x="153.00" y="460.50" font-size="8.2" text-anchor="end" font-weight="normal" fill="#231f20" stroke="#231f20" stroke-width="0.2"  style="">−100</text>
<line x1="156.60" y1="435.60" x2="159.60" y2="435.60" stroke="#231f20" stroke-width="0.9" />
<text x="153.00" y="438.60" font-size="8.2" text-anchor="end" font-weight="normal" fill="#231f20" stroke="#231f20" stroke-width="0.2"  style="">0</text>
<line x1="156.60" y1="413.70" x2="159.60" y2="413.70" stroke="#231f20" stroke-width="0.9" />
<text x="153.00" y="416.70" font-size="8.2" text-anchor="end" font-weight="normal" fill="#231f20" stroke="#231f20" stroke-width="0.2"  style="">100</text>
<line x1="156.60" y1="391.80" x2="159.60" y2="391.80" stroke="#231f20" stroke-width="0.9" />
<text x="153.00" y="394.80" font-size="8.2" text-anchor="end" font-weight="normal" fill="#231f20" stroke="#231f20" stroke-width="0.2"  style="">200</text>
<line x1="158.00" y1="475.02" x2="159.60" y2="475.02" stroke="#231f20" stroke-width="0.7" />
<line x1="158.00" y1="470.64" x2="159.60" y2="470.64" stroke="#231f20" stroke-width="0.7" />
<line x1="158.00" y1="466.26" x2="159.60" y2="466.26" stroke="#231f20" stroke-width="0.7" />
<line x1="158.00" y1="461.88" x2="159.60" y2="461.88" stroke="#231f20" stroke-width="0.7" />
<line x1="158.00" y1="453.12" x2="159.60" y2="453.12" stroke="#231f20" stroke-width="0.7" />
<line x1="158.00" y1="448.74" x2="159.60" y2="448.74" stroke="#231f20" stroke-width="0.7" />
<line x1="158.00" y1="444.36" x2="159.60" y2="444.36" stroke="#231f20" stroke-width="0.7" />
<line x1="158.00" y1="439.98" x2="159.60" y2="439.98" stroke="#231f20" stroke-width="0.7" />
<line x1="158.00" y1="431.22" x2="159.60" y2="431.22" stroke="#231f20" stroke-width="0.7" />
<line x1="158.00" y1="426.84" x2="159.60" y2="426.84" stroke="#231f20" stroke-width="0.7" />
<line x1="158.00" y1="422.46" x2="159.60" y2="422.46" stroke="#231f20" stroke-width="0.7" />
<line x1="158.00" y1="418.08" x2="159.60" y2="418.08" stroke="#231f20" stroke-width="0.7" />
<line x1="158.00" y1="409.32" x2="159.60" y2="409.32" stroke="#231f20" stroke-width="0.7" />
<line x1="158.00" y1="404.94" x2="159.60" y2="404.94" stroke="#231f20" stroke-width="0.7" />
<line x1="158.00" y1="400.56" x2="159.60" y2="400.56" stroke="#231f20" stroke-width="0.7" />
<line x1="158.00" y1="396.18" x2="159.60" y2="396.18" stroke="#231f20" stroke-width="0.7" />
<line x1="161.60" y1="481.50" x2="161.60" y2="484.50" stroke="#231f20" stroke-width="0.9" />
<text x="161.60" y="495.80" font-size="8.2" text-anchor="middle" font-weight="normal" fill="#231f20" stroke="#231f20" stroke-width="0.2"  style="">−100</text>
<line x1="188.50" y1="481.50" x2="188.50" y2="484.50" stroke="#231f20" stroke-width="0.9" />
<text x="188.50" y="495.80" font-size="8.2" text-anchor="middle" font-weight="normal" fill="#231f20" stroke="#231f20" stroke-width="0.2"  style="">0</text>
<line x1="215.40" y1="481.50" x2="215.40" y2="484.50" stroke="#231f20" stroke-width="0.9" />
<text x="215.40" y="495.80" font-size="8.2" text-anchor="middle" font-weight="normal" fill="#231f20" stroke="#231f20" stroke-width="0.2"  style="">100</text>
<line x1="166.98" y1="481.50" x2="166.98" y2="483.20" stroke="#231f20" stroke-width="0.7" />
<line x1="172.36" y1="481.50" x2="172.36" y2="483.20" stroke="#231f20" stroke-width="0.7" />
<line x1="177.74" y1="481.50" x2="177.74" y2="483.20" stroke="#231f20" stroke-width="0.7" />
<line x1="183.12" y1="481.50" x2="183.12" y2="483.20" stroke="#231f20" stroke-width="0.7" />
<line x1="193.88" y1="481.50" x2="193.88" y2="483.20" stroke="#231f20" stroke-width="0.7" />
<line x1="199.26" y1="481.50" x2="199.26" y2="483.20" stroke="#231f20" stroke-width="0.7" />
<line x1="204.64" y1="481.50" x2="204.64" y2="483.20" stroke="#231f20" stroke-width="0.7" />
<line x1="210.02" y1="481.50" x2="210.02" y2="483.20" stroke="#231f20" stroke-width="0.7" />
<text x="188.50" y="381.60" font-size="8.4" text-anchor="middle" font-weight="normal" fill="#231f20" stroke="#231f20" stroke-width="0.2"  style="">−/−</text>
<text x="189.30" y="508.80" font-size="8.2" text-anchor="middle" font-weight="normal" fill="#231f20" stroke="#231f20" stroke-width="0.2"  style="">(µm)</text>
<line x1="307.40" y1="389.50" x2="307.40" y2="481.50" stroke="#d6d6d6" stroke-width="0.7" />
<line x1="278.90" y1="435.60" x2="336.99" y2="435.60" stroke="#d6d6d6" stroke-width="0.7" />
<line x1="278.90" y1="389.20" x2="278.90" y2="481.90" stroke="#231f20" stroke-width="1" />
<line x1="278.50" y1="481.50" x2="336.99" y2="481.50" stroke="#231f20" stroke-width="1" />
<line x1="275.90" y1="479.40" x2="278.90" y2="479.40" stroke="#231f20" stroke-width="0.9" />
<text x="272.30" y="482.40" font-size="8.2" text-anchor="end" font-weight="normal" fill="#231f20" stroke="#231f20" stroke-width="0.2"  style="">−200</text>
<line x1="275.90" y1="457.50" x2="278.90" y2="457.50" stroke="#231f20" stroke-width="0.9" />
<text x="272.30" y="460.50" font-size="8.2" text-anchor="end" font-weight="normal" fill="#231f20" stroke="#231f20" stroke-width="0.2"  style="">−100</text>
<line x1="275.90" y1="435.60" x2="278.90" y2="435.60" stroke="#231f20" stroke-width="0.9" />
<text x="272.30" y="438.60" font-size="8.2" text-anchor="end" font-weight="normal" fill="#231f20" stroke="#231f20" stroke-width="0.2"  style="">0</text>
<line x1="275.90" y1="413.70" x2="278.90" y2="413.70" stroke="#231f20" stroke-width="0.9" />
<text x="272.30" y="416.70" font-size="8.2" text-anchor="end" font-weight="normal" fill="#231f20" stroke="#231f20" stroke-width="0.2"  style="">100</text>
<line x1="275.90" y1="391.80" x2="278.90" y2="391.80" stroke="#231f20" stroke-width="0.9" />
<text x="272.30" y="394.80" font-size="8.2" text-anchor="end" font-weight="normal" fill="#231f20" stroke="#231f20" stroke-width="0.2"  style="">200</text>
<line x1="277.30" y1="475.02" x2="278.90" y2="475.02" stroke="#231f20" stroke-width="0.7" />
<line x1="277.30" y1="470.64" x2="278.90" y2="470.64" stroke="#231f20" stroke-width="0.7" />
<line x1="277.30" y1="466.26" x2="278.90" y2="466.26" stroke="#231f20" stroke-width="0.7" />
<line x1="277.30" y1="461.88" x2="278.90" y2="461.88" stroke="#231f20" stroke-width="0.7" />
<line x1="277.30" y1="453.12" x2="278.90" y2="453.12" stroke="#231f20" stroke-width="0.7" />
<line x1="277.30" y1="448.74" x2="278.90" y2="448.74" stroke="#231f20" stroke-width="0.7" />
<line x1="277.30" y1="444.36" x2="278.90" y2="444.36" stroke="#231f20" stroke-width="0.7" />
<line x1="277.30" y1="439.98" x2="278.90" y2="439.98" stroke="#231f20" stroke-width="0.7" />
<line x1="277.30" y1="431.22" x2="278.90" y2="431.22" stroke="#231f20" stroke-width="0.7" />
<line x1="277.30" y1="426.84" x2="278.90" y2="426.84" stroke="#231f20" stroke-width="0.7" />
<line x1="277.30" y1="422.46" x2="278.90" y2="422.46" stroke="#231f20" stroke-width="0.7" />
<line x1="277.30" y1="418.08" x2="278.90" y2="418.08" stroke="#231f20" stroke-width="0.7" />
<line x1="277.30" y1="409.32" x2="278.90" y2="409.32" stroke="#231f20" stroke-width="0.7" />
<line x1="277.30" y1="404.94" x2="278.90" y2="404.94" stroke="#231f20" stroke-width="0.7" />
<line x1="277.30" y1="400.56" x2="278.90" y2="400.56" stroke="#231f20" stroke-width="0.7" />
<line x1="277.30" y1="396.18" x2="278.90" y2="396.18" stroke="#231f20" stroke-width="0.7" />
<line x1="280.50" y1="481.50" x2="280.50" y2="484.50" stroke="#231f20" stroke-width="0.9" />
<text x="280.50" y="495.80" font-size="8.2" text-anchor="middle" font-weight="normal" fill="#231f20" stroke="#231f20" stroke-width="0.2"  style="">−100</text>
<line x1="307.40" y1="481.50" x2="307.40" y2="484.50" stroke="#231f20" stroke-width="0.9" />
<text x="307.40" y="495.80" font-size="8.2" text-anchor="middle" font-weight="normal" fill="#231f20" stroke="#231f20" stroke-width="0.2"  style="">0</text>
<line x1="334.30" y1="481.50" x2="334.30" y2="484.50" stroke="#231f20" stroke-width="0.9" />
<text x="334.30" y="495.80" font-size="8.2" text-anchor="middle" font-weight="normal" fill="#231f20" stroke="#231f20" stroke-width="0.2"  style="">100</text>
<line x1="285.88" y1="481.50" x2="285.88" y2="483.20" stroke="#231f20" stroke-width="0.7" />
<line x1="291.26" y1="481.50" x2="291.26" y2="483.20" stroke="#231f20" stroke-width="0.7" />
<line x1="296.64" y1="481.50" x2="296.64" y2="483.20" stroke="#231f20" stroke-width="0.7" />
<line x1="302.02" y1="481.50" x2="302.02" y2="483.20" stroke="#231f20" stroke-width="0.7" />
<line x1="312.78" y1="481.50" x2="312.78" y2="483.20" stroke="#231f20" stroke-width="0.7" />
<line x1="318.16" y1="481.50" x2="318.16" y2="483.20" stroke="#231f20" stroke-width="0.7" />
<line x1="323.54" y1="481.50" x2="323.54" y2="483.20" stroke="#231f20" stroke-width="0.7" />
<line x1="328.92" y1="481.50" x2="328.92" y2="483.20" stroke="#231f20" stroke-width="0.7" />
<text x="307.40" y="381.60" font-size="8.4" text-anchor="middle" font-weight="normal" fill="#231f20" stroke="#231f20" stroke-width="0.2"  style="">+/+</text>
<text x="308.20" y="508.80" font-size="8.2" text-anchor="middle" font-weight="normal" fill="#231f20" stroke="#231f20" stroke-width="0.2"  style="">(µm)</text>
<text transform="translate(13.60,435.60) rotate(-90)" x="0" y="2.87" font-size="8.2" text-anchor="middle" fill="#231f20" stroke="#231f20" stroke-width="0.2">(µm)</text>
<text transform="translate(125.40,435.60) rotate(-90)" x="0" y="2.87" font-size="8.2" text-anchor="middle" fill="#231f20" stroke="#231f20" stroke-width="0.2">(µm)</text>
<text transform="translate(240.00,435.60) rotate(-90)" x="0" y="2.87" font-size="8.2" text-anchor="middle" fill="#231f20" stroke="#231f20" stroke-width="0.2">(µm)</text>
<polyline points="62.8,394.3 63.4,395.0 62.7,395.5 61.8,395.7 62.1,396.5 62.7,397.2 61.9,397.5 61.6,397.6 61.5,398.5 61.0,399.3 61.8,398.9 62.7,399.0 62.0,399.6 62.4,400.5 61.7,401.1 60.8,401.0 60.2,401.6 60.6,402.4 61.1,403.1 61.0,403.4 60.4,402.8 60.7,403.6 61.3,404.3 62.0,404.9 61.5,405.6 61.1,406.4 60.8,407.3 61.2,408.1 61.3,409.0 61.1,409.9 60.8,410.7 61.4,411.0 61.1,411.8 61.6,412.6 62.1,411.8 62.1,412.7 62.8,412.2 63.3,413.0 63.5,414.0 64.3,413.5 64.7,414.3 65.6,414.6 65.7,415.5 65.2,414.7 65.7,415.5 65.4,416.4 66.1,415.8 66.6,416.6 66.4,417.0 66.6,417.9 67.4,418.3 67.9,419.1 68.6,419.6 69.3,419.8 70.2,419.8 70.2,420.7 71.1,420.9 70.2,421.2 71.0,421.5 70.9,422.4 71.6,423.0 72.2,423.6 71.9,424.4 72.7,424.8 72.3,425.6 73.0,426.3 72.5,427.1 72.8,427.9 73.6,428.4 74.5,428.1 75.0,429.0 74.6,429.8 74.5,430.7 73.7,431.1 74.5,431.6 74.5,432.5 74.8,433.4 75.5,434.0 76.0,434.0" fill="none" stroke="#000" stroke-width="0.8" stroke-linejoin="round"/>
<circle cx="62.8" cy="394.3" r="1.6" fill="#000"/>
<polyline points="62.8,394.3 62.6,395.2 62.4,396.1 63.0,396.8 63.5,397.5 62.6,398.0 62.5,398.9 61.7,399.3 60.8,399.2 60.3,399.9 60.1,400.8 60.6,401.5 61.2,401.0 60.8,401.8 61.0,402.7 60.7,403.6 60.1,404.1 60.9,404.2 61.8,404.2 62.0,405.0 61.1,404.7 61.0,405.6 60.5,406.3 60.1,407.2 61.0,407.0 60.2,406.7 59.4,407.2 60.0,407.9 60.2,408.7 61.1,409.0 61.6,409.0 62.4,409.4 62.6,410.3 62.5,411.1 61.9,411.8 62.0,412.7 63.0,413.0 63.6,413.7 63.2,414.5 64.1,414.3 64.2,415.1 64.5,416.0 65.2,415.4 65.5,415.5 66.2,414.9 67.0,415.1 67.2,416.0 67.1,416.9 66.5,417.5 67.3,417.3 67.8,418.0 67.8,418.9 68.5,419.0 69.2,419.6 69.5,418.7 69.3,419.6 68.4,419.7 68.4,420.6 69.2,420.3 70.1,420.6 70.5,421.4 71.2,422.0 70.3,421.9 70.5,422.8 71.1,423.5 70.6,424.3 71.4,424.6 70.9,425.4 71.8,425.0 72.7,425.0 72.9,425.9 73.1,426.7 73.9,426.7 74.0,426.0" fill="none" stroke="#000" stroke-width="0.8" stroke-linejoin="round"/>
<polyline points="55.4,402.2 55.9,403.0 56.4,402.2 57.2,402.6 57.9,403.2 58.2,404.0 57.7,404.4 58.1,405.2 59.0,405.3 59.6,405.8 59.3,406.7 59.8,407.4 60.6,407.8 60.6,408.2 60.8,409.1 60.8,410.0 60.7,410.9 61.6,411.0 62.5,411.3 63.2,411.8 64.1,411.5 63.2,411.8 62.7,412.5 63.5,412.8 64.4,413.0 64.5,413.5 65.3,413.2 65.7,414.0 66.1,414.8 65.3,415.1 66.0,415.6 66.8,415.3 67.3,416.0 67.4,415.1 66.9,415.8 67.5,416.5 68.1,415.9 68.5,416.7 69.3,416.3 69.0,415.4 68.4,416.1 68.5,417.0 69.2,417.6 69.7,416.8 70.0,417.6 70.9,417.6 70.1,418.1 70.2,418.8 70.7,418.0 71.6,418.3 70.9,418.9 70.2,419.5 71.1,419.3 71.9,419.0 71.5,419.8 71.3,420.6 72.2,420.6 72.9,421.0 73.5,421.7 73.1,422.7 74.0,422.8 74.6,423.5 73.9,423.9 73.6,424.8 72.7,424.9 73.3,425.6 73.9,426.2 74.8,426.3 75.0,427.2 75.0,428.0 75.9,428.0 76.8,427.8 76.3,428.5 75.5,428.9 75.1,429.8 74.6,430.5 75.0,431.2 75.9,431.3 76.3,432.1 77.1,432.6 77.0,433.0" fill="none" stroke="#000" stroke-width="0.8" stroke-linejoin="round"/>
<circle cx="55.4" cy="402.2" r="1.6" fill="#000"/>
<polyline points="55.4,402.2 56.2,401.7 56.8,401.1 57.6,400.8 57.8,401.7 57.9,402.6 58.2,403.5 58.8,404.2 57.9,404.5 58.2,405.4 58.3,406.3 59.0,406.6 58.8,407.5 59.7,407.2 60.1,406.4 60.0,407.3 60.9,407.5 60.4,408.2 61.0,408.8 61.8,409.0 61.3,409.8 61.2,410.6 61.6,409.8 61.5,410.7 62.4,410.9 63.1,411.3 62.9,412.2 63.7,412.5 63.8,413.4 63.9,414.3 64.3,415.1 64.2,414.2 65.0,414.1 65.8,414.8 66.1,413.9 66.6,414.7 66.5,415.6 67.4,415.8 67.6,416.7 67.8,417.5 68.2,417.8 68.2,418.7 69.1,418.5 70.0,418.4 70.8,418.6 70.0,418.9 69.8,419.8 70.7,420.1 71.5,420.5 71.8,421.3 72.2,422.1 72.6,422.9 73.3,423.5 74.0,424.1 74.0,424.5" fill="none" stroke="#000" stroke-width="0.8" stroke-linejoin="round"/>
<polyline points="78.1,394.6 78.5,395.4 78.3,396.2 77.8,395.5 76.9,395.8 76.5,396.6 76.2,397.5 76.0,397.6 75.7,398.5 75.2,399.2 75.7,400.0 75.2,400.5 74.9,401.4 74.7,402.2 75.2,402.9 75.6,403.7 75.9,404.6 75.8,405.5 75.3,404.8 74.6,405.3 75.3,404.7 75.4,405.6 75.8,406.5 75.9,407.3 75.2,407.9 75.0,408.2 74.8,409.1 75.5,409.6 76.3,410.0 77.2,410.1 77.8,410.7 77.9,411.1 77.6,411.9 78.5,412.2 78.9,413.0 79.7,413.5 80.4,414.0 80.8,414.8 81.3,415.6 80.5,415.2 79.7,415.6 79.4,416.5 78.9,416.9 78.0,416.9 78.5,417.7 77.8,418.3 77.2,419.0 78.1,419.0 79.0,419.2 79.4,420.0 78.5,420.0 77.6,420.1 78.5,420.3 77.6,420.6 78.1,421.3 77.9,421.7 78.1,422.6 78.4,423.4 78.4,424.3 79.2,424.6 79.5,425.5 79.8,426.3 78.9,426.4 78.6,425.6 78.5,424.7 78.4,425.6 79.1,426.0 78.7,426.8 78.6,427.7 78.7,426.8 77.8,426.9 77.8,427.8 77.0,428.0 76.3,428.5 75.8,429.3 76.7,429.3 77.0,430.2 77.0,431.1 76.8,432.0 76.5,432.8 76.5,433.7 76.1,434.5 76.0,435.0" fill="none" stroke="#000" stroke-width="0.8" stroke-linejoin="round"/>
<circle cx="78.1" cy="394.6" r="1.6" fill="#000"/>
<polyline points="71.4,410.0 71.2,410.9 71.0,411.8 70.7,410.9 69.9,411.3 69.5,412.0 69.3,412.9 70.2,412.8 70.2,413.7 69.6,414.3 70.5,414.4 69.6,414.7 70.1,415.4 70.0,416.0 69.7,416.9 70.0,417.7 69.9,418.6 69.3,419.2 70.1,419.5 70.3,420.0 69.6,420.5 70.5,420.7 71.4,420.9 71.1,421.7 72.0,421.8 72.4,422.6 72.2,423.6 71.7,424.4 71.2,425.1 71.9,424.6 71.8,425.5 71.0,425.8 70.6,426.6 71.3,427.1 72.2,427.3 72.9,427.9 73.8,428.0 74.1,428.8 74.2,429.7 74.0,430.0" fill="none" stroke="#000" stroke-width="0.8" stroke-linejoin="round"/>
<circle cx="71.4" cy="410.0" r="1.6" fill="#000"/>
<polyline points="71.4,410.0 71.8,410.8 71.2,411.4 71.9,412.0 72.8,411.8 71.9,412.1 72.5,413.0 73.1,413.7 73.1,414.6 72.7,415.4 72.4,416.2 72.4,417.1 71.5,417.0 72.0,417.8 71.1,417.7 71.9,418.1 72.3,418.9 71.7,419.6 71.8,420.5 72.2,421.3 73.0,421.0 72.6,421.8 73.3,421.3 74.1,421.7 74.1,422.6 73.8,423.5 73.1,424.1 73.3,424.9 74.1,425.4 74.5,426.0" fill="none" stroke="#000" stroke-width="0.8" stroke-linejoin="round"/>
<polyline points="88.5,416.1 88.0,416.8 87.6,417.6 86.9,418.2 86.6,418.8 85.7,419.0 85.4,419.8 85.5,420.7 85.2,421.6 84.7,420.9 83.8,420.5 83.1,421.1 83.8,421.7 83.0,422.1 82.3,422.7 82.6,423.6 82.8,424.6 82.0,425.0 82.5,425.8 82.2,426.6 82.2,427.5 81.3,427.5 81.4,428.4 80.8,428.5 80.4,429.3 79.7,429.8 78.8,429.7 79.2,430.5 79.5,431.3 78.6,431.4 79.2,432.2 78.3,432.4 78.0,433.0" fill="none" stroke="#000" stroke-width="0.8" stroke-linejoin="round"/>
<circle cx="88.5" cy="416.1" r="1.6" fill="#000"/>
<polyline points="57.2,425.1 57.2,426.0 56.7,426.7 57.4,427.3 56.5,426.9 55.8,427.6 56.6,427.9 57.5,428.1 56.7,427.9 56.6,428.8 55.8,428.3 56.4,429.0 57.3,429.1 57.7,429.5 58.5,430.0 58.3,430.8 59.1,430.5 59.6,430.4 60.3,430.9 61.1,431.3 61.6,430.9 61.7,430.0 62.6,429.9 63.5,429.5 64.0,428.8 64.3,427.9 64.5,428.8 65.4,428.5 66.3,428.6 67.0,428.0 67.3,427.6 67.5,426.7 67.3,425.9 67.9,426.5 68.8,426.5 69.2,426.6 69.5,425.8 70.3,426.2 71.0,425.6 71.5,426.4 71.8,427.2 72.2,427.6 72.4,428.5 72.8,429.3 73.3,430.1 74.1,429.9 74.7,430.6 75.3,431.3 75.0,432.0" fill="none" stroke="#000" stroke-width="0.8" stroke-linejoin="round"/>
<circle cx="57.2" cy="425.1" r="1.6" fill="#000"/>
<polyline points="60.5,430.4 61.2,430.9 61.6,431.8 62.0,432.0 62.9,432.0 63.6,432.6 62.7,432.9 63.5,432.4 63.8,431.5 64.2,432.3 64.9,431.9 64.1,432.1 64.6,431.3 64.5,430.5 65.2,429.9 65.8,430.6 65.8,429.7 66.7,429.7 67.0,429.8 67.9,429.9 68.8,430.1 69.7,429.9 70.0,430.5 70.1,429.6 70.7,430.3 71.0,431.1 71.9,431.0 72.4,430.3 73.0,431.0" fill="none" stroke="#000" stroke-width="0.8" stroke-linejoin="round"/>
<polyline points="105.3,436.4 104.5,435.9 103.9,435.2 103.0,435.4 102.4,435.2 101.6,434.8 101.7,433.9 101.2,434.7 100.3,434.7 99.7,435.4 99.1,434.7 99.5,433.8 98.7,434.1 97.8,434.4 97.0,434.0 97.1,433.1 96.8,432.3 96.3,433.1 95.6,433.8 95.1,434.6 94.7,433.7 94.4,434.6 95.2,435.0 94.4,435.2 94.6,436.1 93.7,436.2 93.2,435.4 93.5,436.3 93.0,437.0 93.1,437.9 92.2,437.7 91.6,438.4 90.9,437.8 90.8,437.6 90.1,438.1 89.4,438.8 88.8,438.2 88.0,437.7 87.2,438.2 87.1,439.1 86.6,439.8 86.0,439.1 85.1,439.1 85.3,438.2 84.8,438.9 84.4,439.7 83.7,440.4 83.1,441.0 82.2,441.0 82.2,440.0 81.3,439.8 81.5,438.9 80.6,438.7 79.8,438.9 79.3,439.6 78.9,438.8 78.2,438.2 78.0,438.0" fill="none" stroke="#000" stroke-width="0.8" stroke-linejoin="round"/>
<polyline points="84.9,442.5 84.0,442.7 83.1,442.5 83.1,441.6 83.7,441.0 83.7,440.1 83.0,440.0 82.4,439.4 81.5,439.2 81.0,438.4 80.0,438.0 79.2,437.5 80.0,437.0 79.3,437.6 78.4,437.3 78.7,436.5 77.8,436.5 77.0,436.0" fill="none" stroke="#000" stroke-width="0.8" stroke-linejoin="round"/>
<circle cx="84.9" cy="442.5" r="1.6" fill="#000"/>
<polyline points="77.8,446.8 78.6,446.3 78.0,445.6 77.6,444.8 77.0,444.0 76.6,443.2 75.7,442.9 75.3,442.2 75.6,443.0 76.3,442.5 76.9,441.8 76.5,441.0 77.1,440.3 77.3,439.4 77.7,438.6 76.9,438.2 76.2,437.6 76.0,437.0" fill="none" stroke="#000" stroke-width="0.8" stroke-linejoin="round"/>
<circle cx="77.8" cy="446.8" r="1.6" fill="#000"/>
<polyline points="88.4,416.4 87.5,416.3 87.3,417.2 87.7,418.0 87.1,418.7 86.7,419.4 85.8,419.2 85.6,420.1 85.0,420.0 85.4,420.8 85.0,421.7 84.3,421.2 83.8,422.0 83.3,422.7 82.8,423.5 82.2,424.1 82.0,425.0 81.2,425.3 80.3,425.4 81.1,425.5 80.3,425.6 80.2,426.5 80.4,427.4 79.7,426.8 80.0,427.6 79.1,427.5 78.6,428.3 79.5,428.3 79.4,429.1 80.0,430.0 79.1,430.2 78.8,431.1 79.7,431.1 79.3,431.9 78.8,432.6 78.8,433.5 78.7,432.6 78.1,433.3 77.6,434.0 77.0,434.0" fill="none" stroke="#000" stroke-width="0.8" stroke-linejoin="round"/>
<circle cx="88.4" cy="416.4" r="1.6" fill="#000"/>
<polyline points="76.5,415.5 76.9,416.3 77.6,416.9 78.2,417.6 77.8,418.4 77.4,419.2 77.5,420.0 77.6,420.9 77.4,421.7 78.1,422.3 77.2,422.7 77.4,423.6 76.7,424.1 76.8,425.0 76.0,425.0 76.6,425.7 76.5,426.6 77.3,426.9 76.7,426.3 76.8,427.2 76.9,428.1 77.5,428.7 76.6,428.5 75.9,429.0 76.4,429.8 77.0,430.0" fill="none" stroke="#000" stroke-width="0.8" stroke-linejoin="round"/>
<circle cx="76.5" cy="415.5" r="1.6" fill="#000"/>
<polyline points="78.9,414.5 79.8,414.5 80.2,415.3 79.7,416.0 80.2,416.8 80.9,417.3 81.0,418.2 80.0,418.0 80.4,418.8 80.1,419.6 80.4,420.5 79.9,421.3 79.8,420.4 78.9,420.1 79.7,420.6 79.2,421.4 79.0,422.3 79.0,423.0 79.0,423.9 78.2,424.3 78.4,425.2 78.6,426.0 78.7,426.9 78.5,427.8 77.6,427.8 77.3,428.7 78.0,429.0" fill="none" stroke="#000" stroke-width="0.8" stroke-linejoin="round"/>
<circle cx="78.9" cy="414.5" r="1.6" fill="#000"/>
<polyline points="78.9,419.3 79.8,419.4 80.2,420.2 80.7,420.9 79.9,421.3 79.8,422.2 80.0,423.0 79.2,423.3 79.0,424.2 79.9,424.3 79.2,424.9 78.7,425.7 78.1,426.3 78.9,426.7 78.3,427.4 78.0,428.0 78.3,428.8 78.5,429.7 77.8,430.3 77.2,430.9 77.7,431.7 77.0,432.0" fill="none" stroke="#000" stroke-width="0.8" stroke-linejoin="round"/>
<circle cx="78.9" cy="419.3" r="1.6" fill="#000"/>
<polyline points="83.1,427.5 83.8,428.1 84.6,428.4 84.1,429.1 83.4,428.5 82.7,429.0 83.4,429.5 82.9,430.3 82.1,429.8 81.9,428.9 81.1,428.8 80.7,429.6 81.0,430.0 80.4,430.6 80.7,431.5 80.4,432.3 79.7,432.9 79.0,433.0 79.1,433.9 78.4,434.5 78.1,435.3 77.2,435.6 77.0,436.0" fill="none" stroke="#000" stroke-width="0.8" stroke-linejoin="round"/>
<circle cx="83.1" cy="427.5" r="1.6" fill="#000"/>
<circle cx="105.3" cy="436.4" r="0.9" fill="#000"/>
<polyline points="77.9,430.0 78.4,429.2 77.5,428.8 77.9,427.9 78.2,427.7 78.8,427.0 78.1,426.4 78.8,425.9 78.5,425.1 78.3,424.2 78.3,423.8 79.1,423.5 79.3,423.0 80.1,423.4 79.9,422.5 79.8,421.8 79.4,421.0 80.2,420.6 79.5,421.1 79.7,422.0 80.4,421.9 79.5,421.7 79.4,422.7 78.5,422.8 78.1,423.1" fill="none" stroke="#000" stroke-width="0.75" stroke-linejoin="round"/>
<circle cx="78.1" cy="423.1" r="1.3" fill="#000"/>
<polyline points="77.3,429.4 77.7,428.6 76.7,428.2 76.8,427.3 76.2,427.0 76.8,426.3 76.8,425.8 77.2,425.0 77.5,424.8 77.2,423.9 77.3,423.5 77.5,422.6 77.9,422.3 78.7,422.1 79.1,422.0 79.1,421.1 80.1,421.2 79.8,420.3 79.7,419.9 80.1,420.7 80.7,420.7 81.3,421.4 81.7,421.6 82.5,421.8 82.4,422.7 82.0,423.4 81.8,423.8 81.6,424.7 80.8,424.7 80.3,425.4 79.5,424.7 78.7,424.4 79.1,425.2 78.9,425.8 78.9,426.7 78.1,426.8 77.8,427.7 76.9,427.4 76.8,427.2 76.9,428.1 76.4,428.4" fill="none" stroke="#000" stroke-width="0.75" stroke-linejoin="round"/>
<circle cx="76.4" cy="428.4" r="1.3" fill="#000"/>
<polyline points="78.0,431.0 78.9,430.7 79.3,431.5 78.7,432.1 79.0,432.9 79.7,432.9 80.5,432.5 80.9,432.6 81.5,433.3 81.1,432.5 82.0,432.3 82.2,432.1 83.0,431.8 83.4,431.8 83.9,431.0 83.6,430.5 84.4,430.0 83.5,430.0 83.4,429.2 82.6,429.0 82.2,428.9 81.5,429.6 81.2,429.7 80.5,430.4 80.2,429.6 79.9,429.3 79.6,428.5 79.6,428.1 79.2,427.3 78.6,427.3 77.9,427.8 77.3,427.4 76.7,426.7 76.0,427.1 75.1,427.0 75.0,426.3 74.1,426.5 73.7,426.0" fill="none" stroke="#000" stroke-width="0.75" stroke-linejoin="round"/>
<circle cx="73.7" cy="426.0" r="1.3" fill="#000"/>
<polyline points="76.9,429.4 77.8,429.6 77.7,430.4 77.8,431.3 77.6,431.7 78.2,432.4 78.2,432.9 77.3,432.9 78.1,433.4 78.6,434.2 78.5,435.1 78.0,435.3 77.2,435.7 77.5,436.5 77.6,437.4 77.7,437.8 77.7,438.7 76.8,438.8 76.3,438.0 75.5,438.5 74.7,438.9 74.3,438.8 73.7,439.5 73.0,438.9 72.7,438.0 72.3,437.8 72.0,436.9 71.5,436.7 72.3,436.3 72.8,436.3 73.3,435.6 73.0,435.0 73.9,435.2 74.2,434.6 75.1,434.4 75.4,435.1 75.8,434.3 76.5,433.7 76.7,434.6 76.7,435.2" fill="none" stroke="#000" stroke-width="0.75" stroke-linejoin="round"/>
<circle cx="76.7" cy="435.2" r="1.3" fill="#000"/>
<polyline points="77.6,429.4 76.7,429.4 76.8,430.3 76.6,431.2 77.0,431.6 77.7,432.1 78.1,432.3 78.9,432.8 79.3,432.6 79.5,433.4 80.5,433.1 81.2,433.7 81.6,433.8 82.2,434.5 81.8,435.1 81.0,435.6 81.3,436.3 81.7,437.1 82.1,437.4 83.0,437.4 82.4,438.1 82.1,438.7 82.1,437.8 81.4,437.6 80.9,436.9 80.7,436.5" fill="none" stroke="#000" stroke-width="0.75" stroke-linejoin="round"/>
<circle cx="80.7" cy="436.5" r="1.3" fill="#000"/>
<polyline points="76.7,429.6 76.5,428.7 75.7,429.1 75.4,429.2 74.5,429.0 74.1,429.2 73.8,428.4 72.9,428.7 72.2,429.3 71.8,429.4 70.9,429.5 70.9,430.3 70.7,431.2 70.0,431.3 70.8,430.8 71.2,430.8 72.1,430.9 72.4,431.3 72.7,432.2 73.4,432.2 74.1,431.7 74.6,431.7 75.0,430.9 75.6,430.9 76.5,431.0 76.9,430.7 77.7,430.8 77.7,429.8 77.9,428.9 78.8,429.0 79.5,429.4 78.9,428.8 79.3,428.0 79.7,428.1 79.0,427.5 79.3,426.9" fill="none" stroke="#000" stroke-width="0.75" stroke-linejoin="round"/>
<circle cx="79.3" cy="426.9" r="1.3" fill="#000"/>
<polyline points="76.7,430.2 76.2,431.0 77.1,430.8 77.2,431.4 77.5,432.3 78.3,432.2 78.5,431.9 79.2,431.4 79.7,431.4 79.8,430.5 79.8,430.1 80.1,429.3 79.8,428.8 80.0,428.0 80.4,427.7 79.6,427.3 79.8,426.5 79.2,425.9 78.5,426.5 77.9,425.9 78.0,425.4 77.4,424.7 77.3,424.3 76.7,423.6 77.4,423.0" fill="none" stroke="#000" stroke-width="0.75" stroke-linejoin="round"/>
<circle cx="77.4" cy="423.0" r="1.3" fill="#000"/>
<polyline points="78.5,430.6 77.9,429.9 78.1,429.3 77.4,428.8 76.8,429.2 75.9,428.9 75.5,429.6 74.6,429.5 74.5,430.4 73.7,430.0 73.3,430.8 73.1,431.6 72.9,432.0 73.1,432.9 72.9,433.3 73.7,433.7 72.8,434.0 72.8,434.6 72.0,434.1 72.2,435.0 71.9,435.6 71.1,435.9 70.6,435.6 71.5,435.6 71.8,435.1 72.3,434.4 72.2,433.9 72.4,433.0 73.3,433.2 74.2,433.1 74.5,433.6 75.4,433.5 75.7,434.2" fill="none" stroke="#000" stroke-width="0.75" stroke-linejoin="round"/>
<circle cx="75.7" cy="434.2" r="1.3" fill="#000"/>
<polyline points="77.0,430.8 77.0,429.9 76.2,430.2 75.8,430.4 75.3,431.2 74.6,430.9 73.7,430.7 73.3,431.2 72.6,430.7 72.0,431.3 71.4,432.0 71.5,432.5 70.8,433.1 70.2,432.7 69.5,432.1 70.2,431.4 71.0,431.1 70.9,430.3 70.5,431.1 70.6,430.2 71.3,430.8 72.2,430.3 73.0,430.6 73.4,429.7 74.2,429.3 73.8,428.5 74.0,427.6 74.8,427.5 75.0,428.2 74.6,427.4 75.2,426.9 75.7,426.2 75.9,425.8 75.8,424.9 76.3,424.6" fill="none" stroke="#000" stroke-width="0.75" stroke-linejoin="round"/>
<circle cx="76.3" cy="424.6" r="1.3" fill="#000"/>
<polyline points="77.4,429.3 76.6,429.7 76.3,430.0 77.0,430.6 77.7,431.1 76.8,431.0 76.0,431.2 75.3,431.8 75.6,432.5 76.5,432.7 76.6,433.6 76.0,433.7 75.8,434.6 76.2,435.0 77.0,434.8 77.4,435.7 76.8,436.1 77.5,436.7 77.0,437.4 77.9,437.6 78.3,437.8 79.1,437.3 78.7,438.2 79.3,438.6 80.2,438.4 80.6,438.4 80.9,439.2 81.3,439.5 80.5,439.2 80.2,438.8 79.6,439.4 79.2,438.7 79.1,438.2 78.3,438.7 77.8,437.8 77.1,437.3 76.7,437.1 75.9,436.7 76.0,436.0" fill="none" stroke="#000" stroke-width="0.75" stroke-linejoin="round"/>
<circle cx="76.0" cy="436.0" r="1.3" fill="#000"/>
<polyline points="78.3,429.5 78.4,428.6 78.2,428.2 79.0,427.7 79.2,427.4 80.1,427.4 80.4,427.9 81.2,428.2 81.6,428.4 82.5,428.4 82.7,427.7 83.6,427.5 83.9,428.2 84.8,428.2 85.0,428.8 84.2,428.5 83.8,428.5 83.5,427.6 83.4,427.2 83.9,426.5 84.2,426.2 83.3,426.2 83.0,426.6 82.4,426.0 81.8,426.4 80.9,426.0 81.2,425.2 80.7,424.4 80.3,424.3 80.2,423.4 79.5,423.2 79.7,422.4 78.8,422.1 78.0,421.8 77.6,421.8 77.2,421.0 76.5,421.0 75.6,421.1 75.3,420.5" fill="none" stroke="#000" stroke-width="0.75" stroke-linejoin="round"/>
<circle cx="75.3" cy="420.5" r="1.3" fill="#000"/>
<polyline points="77.5,430.9 78.4,430.8 78.8,430.6 79.4,430.0 79.6,429.6 79.6,428.7 79.8,428.3 80.6,428.6 81.0,427.8 81.3,428.6 82.1,428.5 82.8,427.9 83.4,428.3 83.1,429.1 83.8,429.6 84.4,429.0 84.0,429.8 83.2,429.5 82.3,429.3 82.0,430.0 81.2,430.4 81.5,431.2 80.6,430.9 80.2,431.5 79.5,431.0 79.4,430.5 78.7,430.0 78.2,430.3 77.5,429.7 77.0,429.6 76.3,430.1 75.8,429.9" fill="none" stroke="#000" stroke-width="0.75" stroke-linejoin="round"/>
<circle cx="75.8" cy="429.9" r="1.3" fill="#000"/>
<polyline points="77.0,430.4 76.2,430.1 75.9,431.0 75.0,430.9 74.6,431.7 75.2,432.2 74.7,431.4 73.8,431.8 74.0,432.5 73.2,432.0 72.7,432.8 72.3,433.7 72.2,434.0 72.4,434.9 71.6,435.2 72.3,434.6 72.7,434.5 73.6,434.5 73.9,434.9 74.7,434.4 75.1,434.4 75.8,433.8 75.7,433.2 75.3,432.4 75.2,432.0 75.6,431.2 75.2,430.7 75.9,430.1 75.1,429.4" fill="none" stroke="#000" stroke-width="0.75" stroke-linejoin="round"/>
<circle cx="75.1" cy="429.4" r="1.3" fill="#000"/>
<polyline points="76.9,430.8 76.7,429.9 77.3,429.6 76.8,428.9 77.7,428.3 77.8,427.4 78.7,427.5 79.2,426.7 79.5,426.4 80.2,427.0 80.8,426.5 81.4,425.9 82.1,426.6 81.5,425.9 82.4,425.7 83.0,425.8 83.9,425.7 84.1,425.1 83.2,425.0 83.3,426.1 82.6,426.7 82.8,427.3" fill="none" stroke="#000" stroke-width="0.75" stroke-linejoin="round"/>
<circle cx="82.8" cy="427.3" r="1.3" fill="#000"/>
<polyline points="77.8,430.1 77.0,430.3 77.1,431.2 76.8,432.0 76.0,431.8 76.0,432.7 75.4,432.9 74.7,433.5 74.6,434.0 74.0,434.6 73.3,434.1 72.4,434.2 72.0,433.9 72.1,434.8 71.3,434.4 70.8,434.5 70.7,433.6 70.6,433.2 71.5,433.0 71.6,432.4 72.2,431.7 71.4,431.2 70.6,430.8 71.1,429.9 71.2,429.0 71.9,428.9 71.9,428.0 72.2,427.6" fill="none" stroke="#000" stroke-width="0.75" stroke-linejoin="round"/>
<circle cx="72.2" cy="427.6" r="1.3" fill="#000"/>
<circle cx="79.5" cy="423.5" r="1.5" fill="#000"/>
<circle cx="82.5" cy="428.0" r="1.5" fill="#000"/>
<circle cx="80.5" cy="432.0" r="1.5" fill="#000"/>
<circle cx="73.0" cy="433.0" r="1.5" fill="#000"/>
<circle cx="76.0" cy="426.0" r="1.5" fill="#000"/>
<polyline points="190.2,435.9 190.1,436.7 189.7,437.4 190.4,437.8 190.6,438.6 189.9,438.8 189.4,439.0 189.4,439.8 188.8,440.3 188.2,440.8 187.4,440.7 187.3,441.5" fill="none" stroke="#000" stroke-width="0.9" stroke-linejoin="round"/>
<circle cx="187.3" cy="441.5" r="1.5" fill="#000"/>
<polyline points="190.6,435.7 191.4,435.9 191.2,436.7 191.6,437.4 192.3,437.5 191.5,437.5 190.8,437.9 191.2,438.6 191.6,439.3 192.0,440.0 192.1,440.8 192.8,441.3 192.4,442.0 192.3,442.5" fill="none" stroke="#000" stroke-width="0.9" stroke-linejoin="round"/>
<circle cx="192.3" cy="442.5" r="1.5" fill="#000"/>
<polyline points="190.1,435.6 190.6,436.2 191.2,435.7 191.2,436.5 190.7,437.2 191.5,437.5 191.8,438.0 192.6,438.2 193.0,437.5 193.7,437.9 194.3,438.4 193.8,439.0 193.7,439.8 194.5,439.9 195.0,440.3" fill="none" stroke="#000" stroke-width="0.9" stroke-linejoin="round"/>
<circle cx="195.0" cy="440.3" r="1.5" fill="#000"/>
<polyline points="189.8,435.1 189.4,435.8 189.2,436.6 188.8,437.3 188.9,438.0 189.4,438.7 189.1,439.4 188.3,439.3 187.7,439.8 187.8,439.0 187.2,439.5 186.6,438.9 185.8,438.8" fill="none" stroke="#000" stroke-width="0.9" stroke-linejoin="round"/>
<circle cx="185.8" cy="438.8" r="1.5" fill="#000"/>
<polyline points="191.0,436.4 190.3,435.9 190.3,435.1 189.8,434.5 189.1,434.1 189.3,433.3 188.6,433.0 188.0,433.5 187.5,433.0 186.7,432.9 186.8,432.1 186.3,431.5 185.8,431.0" fill="none" stroke="#000" stroke-width="0.9" stroke-linejoin="round"/>
<circle cx="185.8" cy="431.0" r="1.5" fill="#000"/>
<polyline points="190.3,435.8 190.7,435.1 191.3,434.6 192.1,434.8 192.6,435.2 193.3,435.5 194.1,435.5 194.8,436.0 195.2,435.3 195.3,434.5 196.0,434.7 196.2,434.9" fill="none" stroke="#000" stroke-width="0.9" stroke-linejoin="round"/>
<circle cx="196.2" cy="434.9" r="1.5" fill="#000"/>
<polyline points="190.3,435.6 190.9,435.1 191.4,434.5 191.7,433.7 192.2,432.9 191.9,432.2 192.6,432.2 193.4,431.9 193.5,431.5" fill="none" stroke="#000" stroke-width="0.9" stroke-linejoin="round"/>
<circle cx="193.5" cy="431.5" r="1.5" fill="#000"/>
<polyline points="191.0,434.7 190.2,434.8 190.8,434.2 190.6,433.7 190.0,433.2 190.0,432.4 190.2,431.6 189.4,431.6 188.9,430.9 189.0,430.5" fill="none" stroke="#000" stroke-width="0.9" stroke-linejoin="round"/>
<circle cx="189.0" cy="430.5" r="1.5" fill="#000"/>
<polyline points="190.3,434.9 191.0,434.6 190.9,433.8 190.7,433.5 191.0,433.0" fill="none" stroke="#000" stroke-width="0.9" stroke-linejoin="round"/>
<circle cx="191.0" cy="433.0" r="1.5" fill="#000"/>
<polyline points="190.3,435.9 189.7,435.4 189.2,435.8 188.5,436.2 188.0,436.0" fill="none" stroke="#000" stroke-width="0.9" stroke-linejoin="round"/>
<circle cx="188.0" cy="436.0" r="1.5" fill="#000"/>
<polyline points="190.1,436.3 190.6,436.8 191.3,436.5 192.1,436.6 192.8,436.6 193.6,436.6 194.0,437.3 194.0,437.5" fill="none" stroke="#000" stroke-width="0.9" stroke-linejoin="round"/>
<circle cx="194.0" cy="437.5" r="1.5" fill="#000"/>
<polyline points="190.1,434.7 191.1,435.0 191.8,434.1 192.8,433.5 193.8,433.1 192.7,433.4" fill="none" stroke="#000" stroke-width="0.9" stroke-linejoin="round"/>
<polyline points="190.1,435.3 190.5,434.3 191.3,433.6 192.4,433.2 193.2,434.0 193.1,435.1 193.7,436.0 193.9,437.1 192.9,437.4 191.9,437.9 191.1,438.6" fill="none" stroke="#000" stroke-width="0.9" stroke-linejoin="round"/>
<polyline points="190.5,435.9 189.8,436.7 189.7,437.8 188.8,438.3 188.5,437.3 188.8,436.3" fill="none" stroke="#000" stroke-width="0.9" stroke-linejoin="round"/>
<polyline points="190.8,434.5 191.9,434.7 193.0,434.7 193.8,433.9 194.7,433.3 193.9,434.0 193.0,434.7 191.9,434.9" fill="none" stroke="#000" stroke-width="0.9" stroke-linejoin="round"/>
<polyline points="191.3,434.2 192.3,434.7 193.4,434.6 194.4,434.1 193.3,434.3 192.5,435.0" fill="none" stroke="#000" stroke-width="0.9" stroke-linejoin="round"/>
<polyline points="190.2,434.5 191.2,434.3 192.1,435.0 192.8,435.8 193.8,436.2 192.7,436.1 191.8,436.8 191.0,437.5 190.1,438.0 189.2,437.4 188.1,437.1" fill="none" stroke="#000" stroke-width="0.9" stroke-linejoin="round"/>
<polyline points="190.9,434.4 191.8,433.8 192.8,433.3 193.8,433.0 194.2,434.0 193.2,434.5 192.3,435.1 191.4,435.7 190.4,435.2 189.3,435.0" fill="none" stroke="#000" stroke-width="0.9" stroke-linejoin="round"/>
<polyline points="190.9,434.5 189.8,434.7 189.4,435.7 188.8,436.6 188.8,437.7 189.4,438.6 190.4,439.0" fill="none" stroke="#000" stroke-width="0.9" stroke-linejoin="round"/>
<ellipse cx="190.3" cy="435" rx="3.4" ry="3.3" fill="#000"/>
<polyline points="290.8,411.0 291.1,411.8 290.2,412.1 289.3,412.0 289.0,412.0 289.0,412.9 289.8,413.3 289.8,414.2 289.3,415.0 289.1,415.9 288.8,416.0 288.4,416.8 289.3,416.9 289.7,417.8 290.3,418.3 289.9,419.1 289.3,420.0 289.4,420.9 288.8,421.6 289.2,422.4 289.7,423.2 289.8,424.0 290.6,424.5 291.0,424.5 291.5,425.2 292.2,425.9 292.8,426.5 293.6,426.1 294.0,426.5 294.6,425.8 295.4,426.1 295.8,426.9 296.6,426.4 297.0,427.0 296.8,427.9 297.7,427.7 297.9,428.6 298.0,429.0 297.9,429.9 297.0,429.7 296.1,429.7 296.5,430.6 296.0,431.0 295.5,431.8 296.1,431.1 296.3,432.0 297.1,431.4 297.8,431.9 297.1,432.5 298.0,433.0 298.7,432.4 299.5,432.8 299.8,433.6 300.6,434.0 301.4,433.5 302.0,434.0 302.7,434.5 303.6,434.3 304.2,435.0 305.1,434.9 306.0,435.0" fill="none" stroke="#000" stroke-width="0.8" stroke-linejoin="round"/>
<circle cx="290.8" cy="411.0" r="1.6" fill="#000"/>
<polyline points="327.7,423.4 327.4,424.2 326.5,424.2 326.0,423.4 325.6,424.2 325.0,424.0 324.4,423.4 323.5,423.1 322.8,422.5 322.2,423.2 322.0,423.8 321.3,423.3 320.7,422.6 320.0,422.0 319.6,422.8 319.1,423.6 318.4,424.2 318.0,424.5 317.3,425.0 316.4,424.8 315.5,424.6 314.8,425.1 314.0,425.0 313.4,425.7 313.2,426.5 313.0,427.4 312.2,427.8 311.7,427.1 311.0,426.5 310.3,425.9 310.0,426.8 309.2,426.3 308.8,425.5 308.0,425.5 307.4,426.1 306.5,426.0 306.5,427.0 307.2,427.6 306.6,428.3 306.5,429.2 306.5,430.1 307.0,431.0 306.1,431.0 306.1,431.9 305.9,432.8 305.5,433.6 306.0,434.0" fill="none" stroke="#000" stroke-width="0.8" stroke-linejoin="round"/>
<circle cx="327.7" cy="423.4" r="1.6" fill="#000"/>
<polyline points="283.5,439.5 284.4,439.6 284.7,440.4 285.4,440.9 284.5,441.0 284.5,442.0 285.1,442.7 285.6,442.0 286.4,442.4 287.1,442.9 288.0,443.0 287.9,442.1 288.8,442.3 289.5,441.7 290.3,441.2 291.1,441.0 292.0,441.0 292.4,440.2 293.3,440.4 294.2,440.5 294.6,439.7 295.0,439.5 295.7,439.0 296.6,438.6 296.9,439.5 296.9,438.6 297.8,438.9 297.8,438.0 298.7,437.9 299.0,438.5 299.9,438.7 300.5,438.1 301.3,438.5 302.0,439.0 302.5,438.2 303.0,437.5" fill="none" stroke="#000" stroke-width="0.8" stroke-linejoin="round"/>
<circle cx="283.5" cy="439.5" r="1.6" fill="#000"/>
<polyline points="324.3,437.0 323.8,436.3 322.9,436.4 322.1,435.9 321.3,436.3 320.4,436.2 320.0,436.5 319.2,436.2 318.5,435.5 317.8,436.0 316.9,436.1 316.0,436.0 315.6,435.2 314.7,435.4 313.8,435.6 312.9,435.8 312.0,436.0" fill="none" stroke="#000" stroke-width="0.8" stroke-linejoin="round"/>
<circle cx="324.3" cy="437.0" r="1.6" fill="#000"/>
<polyline points="293.3,434.4 293.7,433.6 294.4,433.1 295.2,432.6 295.0,432.0 294.6,431.2 295.5,431.2 296.4,431.4 297.2,431.0 298.0,431.5 298.6,432.1 299.5,431.7 300.4,431.7 301.1,431.1 302.0,431.1 302.0,432.0 302.8,432.5 303.2,433.2 304.1,433.5 305.0,434.0" fill="none" stroke="#000" stroke-width="0.8" stroke-linejoin="round"/>
<circle cx="293.3" cy="434.4" r="1.6" fill="#000"/>
<polyline points="279.2,426.0 279.7,426.7 280.5,427.2 281.0,427.0 281.9,426.9 282.3,427.7 283.0,428.5 283.9,428.6 284.3,429.4 284.4,428.5 285.2,428.0 285.9,428.5 286.0,429.0 286.8,429.4 287.5,430.0 288.3,430.3 289.0,430.8 289.9,431.1 290.4,430.4 290.9,431.2 291.2,432.0 292.0,432.0 292.7,432.6 293.5,433.0 294.4,432.8 295.0,433.5 295.9,433.6 295.9,434.5 296.7,434.0 297.6,434.0 298.1,433.3 299.0,433.4 299.6,434.1 300.0,434.0 300.6,433.3 301.1,434.1 302.0,433.9 302.7,434.5 303.5,434.0 304.0,434.5" fill="none" stroke="#000" stroke-width="0.8" stroke-linejoin="round"/>
<polyline points="304.0,446.2 304.2,445.3 303.4,445.1 303.4,444.2 303.0,444.0 303.3,443.2 303.2,442.3 304.1,442.2 303.6,441.4 304.0,441.0 304.4,440.2 305.3,440.0 305.3,439.1 305.0,438.2 305.5,438.0" fill="none" stroke="#000" stroke-width="0.8" stroke-linejoin="round"/>
<circle cx="304.0" cy="446.2" r="1.6" fill="#000"/>
<polyline points="318.8,440.2 317.9,440.3 317.1,439.9 316.3,440.3 316.0,441.0 315.1,440.8 314.3,440.5 313.8,439.7 313.0,439.0 312.5,438.3 311.9,437.6 311.0,437.3 310.0,437.0" fill="none" stroke="#000" stroke-width="0.8" stroke-linejoin="round"/>
<circle cx="318.8" cy="440.2" r="1.6" fill="#000"/>
<polyline points="300.3,437.6 301.1,437.2 302.0,437.0 302.9,437.2 303.7,436.8 304.5,436.9 305.0,436.5" fill="none" stroke="#000" stroke-width="0.8" stroke-linejoin="round"/>
<circle cx="300.3" cy="437.6" r="1.6" fill="#000"/>
<polyline points="312.1,429.1 312.0,430.0 311.4,430.7 310.7,431.2 311.0,432.0 310.3,432.6 309.5,433.1 309.0,433.8 309.0,434.0" fill="none" stroke="#000" stroke-width="0.8" stroke-linejoin="round"/>
<circle cx="312.1" cy="429.1" r="1.6" fill="#000"/>
<polyline points="305.0,440.0 304.4,440.6 305.0,441.3 305.3,442.1 305.7,442.9 305.9,443.8 306.0,444.0 306.4,444.8 307.2,445.1 307.8,445.7 308.2,446.6 308.0,447.0 308.8,447.4 309.7,447.7 310.3,447.1 311.2,447.0 312.0,446.5 312.0,445.6 312.9,445.5 313.7,445.1 314.1,444.3 314.2,445.2 315.0,445.0 315.8,444.5 315.3,443.8 315.6,442.9 316.0,442.0 315.2,441.5 314.5,441.1 313.6,441.2 313.3,440.4 313.0,440.0" fill="none" stroke="#000" stroke-width="0.8" stroke-linejoin="round"/>
<polyline points="308.7,438.8 309.4,438.2 309.8,438.0 310.7,437.8 310.9,437.3 311.7,436.9 312.1,436.8 311.2,436.7 312.0,436.3 312.4,435.5 313.1,435.0 313.5,434.9 314.3,434.4 314.8,434.8 315.6,434.5 316.1,434.5 316.5,435.3 315.9,435.9 315.7,435.0 314.9,435.1 314.1,434.6 313.2,434.7 313.9,435.3 313.8,435.8 313.2,436.5 313.0,436.8 312.6,437.6 313.0,438.1 313.3,438.9 312.6,439.4 311.7,439.5 312.1,440.5 312.0,441.4 311.5,441.7 311.8,442.5 312.2,442.7 313.0,443.2 312.7,444.0 312.0,443.4 311.5,443.4 310.8,442.8 310.5,442.5 310.5,441.6 309.7,441.5" fill="none" stroke="#000" stroke-width="0.8" stroke-linejoin="round"/>
<circle cx="309.7" cy="441.5" r="1.3" fill="#000"/>
<polyline points="308.5,437.7 309.3,437.3 309.8,437.9 310.2,438.7 311.1,438.5 311.1,437.8 312.0,437.9 312.4,437.7 313.1,438.3 313.1,438.9 314.0,438.7 314.3,439.4 315.0,439.9 315.6,439.2 315.4,438.7 316.0,438.1 316.4,437.9 315.8,438.6 315.4,438.8 314.8,438.1 314.1,438.5 313.6,439.2 313.2,439.4 312.7,440.1 312.3,440.3 312.8,441.1 312.7,441.6 312.7,442.5 312.0,442.7 311.1,442.7 310.7,442.5" fill="none" stroke="#000" stroke-width="0.8" stroke-linejoin="round"/>
<circle cx="310.7" cy="442.5" r="1.3" fill="#000"/>
<polyline points="307.9,438.3 308.8,438.1 309.2,438.0 310.0,437.6 309.9,436.9 310.3,437.7 310.4,436.8 311.0,436.2 311.0,435.3 312.0,435.4 311.5,434.6 311.6,434.1 311.3,433.3 310.8,433.1 309.9,433.0 309.6,432.6 309.1,431.9 308.6,431.7 307.8,431.9 307.4,431.4 308.1,430.9 308.7,431.2 309.4,431.7 309.9,431.6 309.9,432.5 309.3,432.8 310.1,433.2 309.8,433.9 309.6,434.8 309.8,435.2 309.4,436.0 309.8,436.5 310.6,436.9 310.9,437.3 311.7,437.0 312.1,437.0 312.9,437.3 313.0,437.9 313.7,438.4 313.7,439.0 314.5,439.4 314.7,439.9" fill="none" stroke="#000" stroke-width="0.8" stroke-linejoin="round"/>
<circle cx="314.7" cy="439.9" r="1.3" fill="#000"/>
<polyline points="309.4,437.2 308.8,436.5 308.2,436.8 307.3,436.6 306.9,436.5 306.8,437.4 305.7,437.1 305.5,438.0 304.8,438.0 304.9,438.9 304.5,439.3 303.9,439.9 303.9,440.4 303.1,440.8 303.6,441.7 303.2,442.5 303.8,442.9 303.3,442.2 303.1,441.9 302.7,441.1 302.8,440.6 302.0,440.2 301.9,439.7 301.1,439.2 301.3,438.5 300.5,438.3 300.0,438.5 300.8,439.0 301.2,438.1" fill="none" stroke="#000" stroke-width="0.8" stroke-linejoin="round"/>
<circle cx="301.2" cy="438.1" r="1.3" fill="#000"/>
<polyline points="308.2,438.4 307.4,438.9 306.7,438.4 307.2,437.6 308.1,437.8 307.5,437.2 307.3,436.3 307.6,435.5 308.5,435.8 309.1,435.1 308.5,434.5 308.4,433.6 309.0,433.3 308.6,432.5 309.3,432.0 309.7,432.8 310.1,433.0 310.8,433.6 311.0,433.9 311.9,433.7 312.3,434.3 312.8,435.0 313.2,435.2" fill="none" stroke="#000" stroke-width="0.8" stroke-linejoin="round"/>
<circle cx="313.2" cy="435.2" r="1.3" fill="#000"/>
<polyline points="309.4,438.0 308.9,437.3 308.2,437.4 308.3,436.5 307.9,436.1 307.0,436.2 306.9,435.3 307.6,434.9 306.8,434.5 306.4,434.4 305.8,433.7 305.8,433.2 305.1,432.7 304.5,433.3 304.0,432.6 303.8,432.3 304.1,433.1 304.7,433.2 304.6,434.1 304.7,434.5 304.3,435.3 303.7,435.3 303.1,436.0 302.4,435.6 301.8,435.0 301.6,434.6 302.3,435.2 302.9,434.9 303.3,435.7 303.5,436.0 303.4,436.9 304.2,437.1 304.3,436.2 304.7,437.0 305.5,437.2 306.3,436.8 306.8,437.0 307.5,436.4 307.9,436.4 308.7,436.8 309.2,436.7 309.3,437.6 309.6,438.0" fill="none" stroke="#000" stroke-width="0.8" stroke-linejoin="round"/>
<circle cx="309.6" cy="438.0" r="1.3" fill="#000"/>
<polyline points="309.1,438.0 309.8,438.6 309.8,439.1 310.5,439.6 311.0,439.5 311.9,439.6 312.1,440.2 312.4,441.0 312.0,441.5 312.5,442.2 311.6,442.4 311.2,442.5 312.1,442.9 311.6,443.8 311.3,443.0 311.4,442.5 310.8,441.8 310.5,441.6 309.9,440.9 310.4,440.3 309.5,439.9 309.2,439.6 309.1,438.7 308.7,438.5" fill="none" stroke="#000" stroke-width="0.8" stroke-linejoin="round"/>
<circle cx="308.7" cy="438.5" r="1.3" fill="#000"/>
<polyline points="307.7,438.8 307.2,439.6 307.1,440.0 306.6,440.7 306.2,440.9 305.4,441.3 304.9,440.6 304.5,439.8 304.5,439.4 304.1,438.6 304.3,438.1 304.4,437.2 304.1,436.8 305.0,436.5 305.1,435.9 305.8,435.4 305.8,434.8 305.7,433.9 305.9,433.5 306.8,433.3 306.7,432.5 306.9,431.6 306.9,431.2 306.8,432.1 307.8,432.1 308.6,432.5 309.0,432.8 309.7,433.2 310.1,433.4 310.5,432.6 310.5,433.5 311.4,433.6 312.1,434.2 312.7,433.5 313.6,433.4 314.0,433.4 313.8,434.2 314.3,434.6" fill="none" stroke="#000" stroke-width="0.8" stroke-linejoin="round"/>
<circle cx="314.3" cy="434.6" r="1.3" fill="#000"/>
<polyline points="308.9,438.7 308.7,439.6 308.4,439.9 308.7,440.7 309.2,440.9 310.1,441.1 310.5,441.1 311.3,440.6 311.4,440.1 312.3,440.3 312.7,439.9 313.2,439.1 313.8,439.2 313.1,439.8 313.8,439.2 314.7,439.5 315.1,439.6 316.0,439.5 316.3,439.1 315.6,439.7 315.4,440.1 314.6,440.5 314.1,440.1 314.2,439.3 313.4,439.0 312.7,438.4 313.1,437.8 312.3,437.3 312.5,436.6 311.6,436.4 311.2,436.5 310.6,435.8 309.9,436.2 309.1,436.6 308.9,437.1 308.9,438.0 308.2,438.1 308.6,439.0 308.3,439.4 308.3,440.3 309.1,440.5" fill="none" stroke="#000" stroke-width="0.8" stroke-linejoin="round"/>
<circle cx="309.1" cy="440.5" r="1.3" fill="#000"/>
<polyline points="307.8,437.2 306.9,437.1 306.6,436.8 305.7,436.7 305.8,435.7 305.1,435.2 305.5,434.5 306.3,434.0 306.1,433.3 306.3,432.5 306.6,432.1 307.4,431.7 307.9,431.8 308.7,432.2 309.1,432.2 309.7,432.9 309.7,433.3 309.3,434.1 308.9,434.4 308.5,435.2 308.6,435.6 307.7,435.8 307.4,436.3" fill="none" stroke="#000" stroke-width="0.8" stroke-linejoin="round"/>
<circle cx="307.4" cy="436.3" r="1.3" fill="#000"/>
<polyline points="308.4,437.1 307.8,437.7 307.5,437.9 306.8,438.5 306.2,438.3 306.0,437.4 305.3,437.4 304.4,437.3 304.3,436.6 303.9,435.8 303.8,435.4 302.9,435.5 302.9,434.4 302.5,433.6 302.9,433.1 303.7,432.7 304.2,433.1 304.6,433.9 305.3,433.8 305.1,432.9 305.9,433.4 306.6,433.5 307.4,433.1 307.9,433.4 308.8,433.5 308.9,432.6 309.3,431.8 309.4,431.4 309.9,432.2 310.5,432.1" fill="none" stroke="#000" stroke-width="0.8" stroke-linejoin="round"/>
<circle cx="310.5" cy="432.1" r="1.3" fill="#000"/>
<polyline points="308.6,437.5 309.2,438.2 309.1,438.7 310.0,438.9 310.0,439.7 310.5,440.5 310.2,441.0 310.6,441.8 310.6,442.2 310.0,442.9 310.6,443.5 311.1,442.8 310.3,442.4 310.0,442.4 309.6,441.6 310.4,442.1 310.7,441.4 311.5,441.9 312.0,441.4 312.9,441.4 313.3,441.3 314.2,441.5 314.6,441.1 314.7,440.2 315.6,440.3 316.4,440.0 316.9,440.1 316.4,440.8 317.1,441.3 316.6,440.6 315.8,440.9 314.9,440.8 314.7,440.0 315.3,439.8 314.7,439.1 314.0,439.7" fill="none" stroke="#000" stroke-width="0.8" stroke-linejoin="round"/>
<circle cx="314.0" cy="439.7" r="1.3" fill="#000"/>
<polyline points="307.7,438.6 307.9,437.7 308.5,437.5 309.4,437.7 309.8,437.3 309.9,438.2 310.5,438.4 311.3,438.7 311.8,438.5 312.3,437.8 313.0,438.1 313.6,437.4 313.6,437.0 314.5,437.0 314.9,436.8 315.8,437.1 316.2,437.2 315.8,438.0 315.3,438.2 314.7,438.8 314.4,439.0 314.9,439.8 314.0,440.3 314.9,440.4 314.9,441.2 315.6,440.6 316.1,440.8 315.3,441.2 314.9,441.1 314.7,440.2 314.0,440.2" fill="none" stroke="#000" stroke-width="0.8" stroke-linejoin="round"/>
<circle cx="314.0" cy="440.2" r="1.3" fill="#000"/>
<polyline points="308.8,438.1 308.1,437.5 307.6,437.7 306.7,437.8 306.3,437.7 305.8,438.5 305.3,438.6 304.4,438.6 304.1,439.1 303.2,439.1 303.3,440.1 302.6,439.6 302.4,440.4 302.1,440.6 301.3,440.4 301.0,440.0 301.2,439.1 301.6,438.8 302.2,438.1 302.3,437.7 303.1,438.1 302.5,437.4 303.2,436.8 303.3,437.6 304.0,437.1 304.4,437.0 305.3,437.2 305.4,437.9 306.2,438.1 306.6,438.4 307.1,437.6 307.4,437.3 308.3,437.3 308.7,437.6" fill="none" stroke="#000" stroke-width="0.8" stroke-linejoin="round"/>
<circle cx="308.7" cy="437.6" r="1.3" fill="#000"/>
<polyline points="308.7,438.9 308.9,438.0 308.5,437.6 308.1,436.8 307.4,436.9 306.5,436.8 306.2,437.1 305.3,437.5 304.9,436.7 304.1,437.0 304.0,437.7 304.0,438.6 303.2,438.9 302.6,438.2 302.8,437.4 302.3,436.6 302.3,436.2 301.5,435.8 301.0,436.0 301.8,436.4 302.1,436.6 303.0,436.3 303.4,436.5 304.2,436.1 304.4,435.6 304.5,434.8 304.8,434.4 304.2,433.7 304.1,433.3 304.6,434.0 305.2,433.9 304.9,434.7 305.5,435.2" fill="none" stroke="#000" stroke-width="0.8" stroke-linejoin="round"/>
<circle cx="305.5" cy="435.2" r="1.3" fill="#000"/>
<polyline points="309.2,438.4 308.3,438.1 307.9,438.0 307.4,437.2 307.2,436.9 306.9,436.1 307.3,435.6 306.4,435.7 306.1,435.0 305.6,435.8 305.0,435.7 304.2,436.0 303.7,435.5 304.1,434.7 303.4,434.3 303.5,433.4 304.0,433.2 304.4,432.3 304.4,431.9 304.8,432.7 305.3,432.9 306.1,433.1 306.4,433.5 307.2,433.1 307.4,432.7" fill="none" stroke="#000" stroke-width="0.8" stroke-linejoin="round"/>
<circle cx="307.4" cy="432.7" r="1.3" fill="#000"/>
<polyline points="307.9,438.8 307.6,439.7 307.9,440.1 307.2,440.7 307.6,441.4 307.0,442.1 306.9,442.5 306.1,442.8 306.1,443.5 305.2,443.6 305.1,444.4 304.5,443.7 304.1,443.6 303.2,443.3 302.8,443.3 303.7,443.2 303.4,444.0 302.7,443.5 303.2,442.7 302.9,442.0 303.2,441.1 303.1,440.7 303.7,441.4 304.1,440.6 304.0,439.7 304.8,439.4 303.9,439.7 303.5,438.9 304.0,438.4 304.2,437.6 303.3,437.2 302.8,437.9 301.9,437.9 301.5,438.1 301.2,438.9 300.9,439.2 300.2,438.7 299.8,439.5 299.9,440.1 299.9,439.2 300.3,438.8 300.5,437.9 300.4,437.5" fill="none" stroke="#000" stroke-width="0.8" stroke-linejoin="round"/>
<circle cx="300.4" cy="437.5" r="1.3" fill="#000"/>
<polyline points="307.9,438.8 308.1,439.6 308.8,439.7 309.7,439.9 310.0,440.2 310.3,441.0 310.2,441.5 310.8,442.1 311.3,442.2 311.8,442.9 311.9,443.4 311.0,443.1 310.8,443.9 311.1,444.4 310.6,443.7 310.2,443.5 309.3,443.7 308.9,443.6 308.1,443.2 307.7,443.1 307.3,442.3 307.3,441.9 307.8,441.1 307.6,440.6" fill="none" stroke="#000" stroke-width="0.8" stroke-linejoin="round"/>
<circle cx="307.6" cy="440.6" r="1.3" fill="#000"/>
<polyline points="308.0,438.0 308.8,437.6 308.4,436.8 309.1,436.2 309.5,436.1 310.2,435.6 310.0,434.9 309.9,434.0 309.4,433.8 309.7,433.0 309.1,432.5 308.3,432.7 307.9,432.2 308.7,431.8 307.8,432.0 308.6,432.5 308.9,433.0 308.8,433.9 308.7,434.3 307.8,434.2 307.5,434.7 306.7,434.2 306.2,434.6 305.6,435.3 305.2,435.4" fill="none" stroke="#000" stroke-width="0.8" stroke-linejoin="round"/>
<circle cx="305.2" cy="435.4" r="1.3" fill="#000"/>
<polyline points="308.3,437.1 309.2,436.8 309.6,437.4 310.5,437.5 310.5,438.3 310.9,439.1 311.8,438.5 311.8,437.6 312.4,437.4 312.0,436.6 312.2,436.1 312.2,435.2 312.9,435.0 313.3,434.2 313.6,433.9 313.9,433.1 314.7,433.1 313.8,433.4 314.2,434.2 314.4,434.4 313.8,435.1 314.2,435.8 315.1,435.5 315.5,434.8 316.4,435.4 315.8,436.1 315.9,436.6 316.1,437.5 316.8,437.5 315.9,437.5 315.6,438.0 314.7,438.2 314.3,438.2 313.4,438.1 313.1,438.7 312.3,438.4 312.0,439.3 311.1,439.4 310.7,439.5 309.8,439.4 309.6,440.3" fill="none" stroke="#000" stroke-width="0.8" stroke-linejoin="round"/>
<circle cx="309.6" cy="440.3" r="1.3" fill="#000"/>
<polyline points="308.4,437.2 307.9,436.0 306.6,436.0 305.3,436.0 304.6,437.1 303.4,437.6 304.6,437.2 305.9,437.3 307.1,437.9 307.9,439.0 308.9,439.8 309.9,440.6 309.1,439.6" fill="none" stroke="#000" stroke-width="1.3" stroke-linejoin="round"/>
<polyline points="307.1,437.1 305.8,437.4 305.2,438.5 305.9,439.6 306.5,440.7 307.8,440.7 308.9,440.0 308.9,438.7 309.1,437.4 309.0,436.1 307.7,435.7 306.5,436.1 305.2,436.1 304.5,437.2 304.2,438.5 305.2,439.4 306.4,439.0 307.5,439.7" fill="none" stroke="#000" stroke-width="1.3" stroke-linejoin="round"/>
<polyline points="307.6,438.2 306.4,438.6 305.8,439.8 306.0,441.1 306.0,439.8 306.8,438.8 308.1,439.1 308.4,440.4 308.2,441.7 308.6,440.4 309.4,439.4 310.7,439.3 311.8,440.1" fill="none" stroke="#000" stroke-width="1.3" stroke-linejoin="round"/>
<polyline points="307.2,437.5 306.0,437.1 305.3,436.0 305.9,434.9 306.9,434.1 307.9,433.2 307.2,434.3 306.1,435.1 305.3,436.0 304.0,435.8 305.2,436.3 305.1,437.6 306.1,438.6" fill="none" stroke="#000" stroke-width="1.3" stroke-linejoin="round"/>
<polyline points="309.0,438.2 309.4,439.5 309.3,440.7 308.5,441.7 307.2,441.3 306.2,440.6 304.9,441.0 306.1,440.5 306.3,439.2 307.4,438.5 308.7,438.6 309.6,439.5 309.5,440.8 309.0,439.6 309.9,438.6" fill="none" stroke="#000" stroke-width="1.3" stroke-linejoin="round"/>
<polyline points="307.4,437.9 308.0,439.1 308.5,440.3 307.6,441.3 306.9,440.1 306.6,438.9 305.4,438.4 304.2,438.9 304.7,437.7 305.0,436.4 305.9,435.5 305.4,434.3 306.7,434.2 307.8,435.0 309.0,434.6 310.0,433.7 310.9,434.6 310.3,435.7" fill="none" stroke="#000" stroke-width="1.3" stroke-linejoin="round"/>
<polyline points="308.9,437.7 310.1,438.3 311.4,438.3 312.5,437.7 311.9,438.8 311.3,440.0 310.1,439.6 309.6,438.4 309.1,437.2 308.7,436.0 308.9,434.7 308.4,433.5 309.7,433.3 308.6,434.0 308.2,435.3 308.3,436.6 309.5,437.1 310.5,436.4 311.3,435.3" fill="none" stroke="#000" stroke-width="1.3" stroke-linejoin="round"/>
<polyline points="308.7,438.2 307.6,438.8 306.4,438.2 306.0,436.9 306.8,435.9 306.3,434.7 305.7,433.6 306.9,434.0 308.2,434.2 309.3,434.8 309.8,436.0 309.0,437.0 308.2,438.1 306.9,437.9 305.7,437.4 304.4,437.2 303.7,438.3 304.3,439.5 305.5,440.0" fill="none" stroke="#000" stroke-width="1.3" stroke-linejoin="round"/>
</svg></body></html>
